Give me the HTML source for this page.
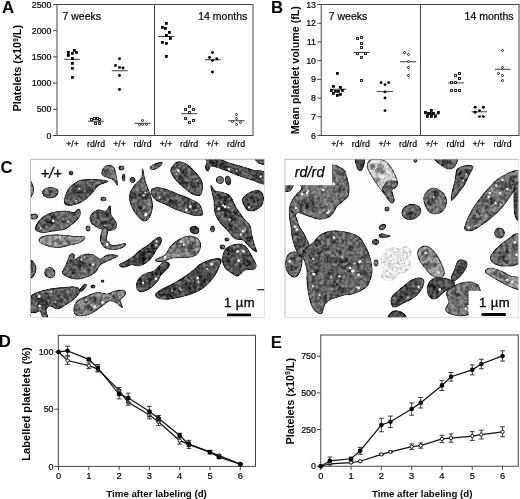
<!DOCTYPE html>
<html lang="en">
<head>
<meta charset="utf-8">
<title>Figure</title>
<style>
html,body{margin:0;padding:0;background:#fff;}
body{width:520px;height:499px;overflow:hidden;font-family:"Liberation Sans", sans-serif;}
svg{display:block;}
</style>
</head>
<body>
<svg width="520" height="499" viewBox="0 0 520 499" font-family='"Liberation Sans", sans-serif'>
<rect width="520" height="499" fill="#fff"/>
<rect x="57" y="4.5" width="196" height="131" fill="none" stroke="#444" stroke-width="1"/>
<line x1="154.5" y1="4.5" x2="154.5" y2="135.5" stroke="#444" stroke-width="1"/>
<line x1="53.1" y1="135.5" x2="57" y2="135.5" stroke="#444" stroke-width="1"/>
<text x="51.5" y="138.5" font-size="8.9" text-anchor="end" font-weight="normal" font-style="normal" fill="#000" stroke="#000" stroke-width="0.2">0</text>
<line x1="53.1" y1="109.3" x2="57" y2="109.3" stroke="#444" stroke-width="1"/>
<text x="51.5" y="112.3" font-size="8.9" text-anchor="end" font-weight="normal" font-style="normal" fill="#000" stroke="#000" stroke-width="0.2">500</text>
<line x1="53.1" y1="83.1" x2="57" y2="83.1" stroke="#444" stroke-width="1"/>
<text x="51.5" y="86.1" font-size="8.9" text-anchor="end" font-weight="normal" font-style="normal" fill="#000" stroke="#000" stroke-width="0.2">1000</text>
<line x1="53.1" y1="56.9" x2="57" y2="56.9" stroke="#444" stroke-width="1"/>
<text x="51.5" y="59.9" font-size="8.9" text-anchor="end" font-weight="normal" font-style="normal" fill="#000" stroke="#000" stroke-width="0.2">1500</text>
<line x1="53.1" y1="30.7" x2="57" y2="30.7" stroke="#444" stroke-width="1"/>
<text x="51.5" y="33.7" font-size="8.9" text-anchor="end" font-weight="normal" font-style="normal" fill="#000" stroke="#000" stroke-width="0.2">2000</text>
<line x1="53.1" y1="4.5" x2="57" y2="4.5" stroke="#444" stroke-width="1"/>
<text x="51.5" y="7.5" font-size="8.9" text-anchor="end" font-weight="normal" font-style="normal" fill="#000" stroke="#000" stroke-width="0.2">2500</text>
<text x="72.5" y="147.3" font-size="8.75" text-anchor="middle" font-weight="normal" font-style="normal" fill="#000" stroke="#000" stroke-width="0.2">+/+</text>
<text x="96" y="147.3" font-size="8.75" text-anchor="middle" font-weight="normal" font-style="normal" fill="#000" stroke="#000" stroke-width="0.2">rd/rd</text>
<text x="119.5" y="147.3" font-size="8.75" text-anchor="middle" font-weight="normal" font-style="normal" fill="#000" stroke="#000" stroke-width="0.2">+/+</text>
<text x="142.5" y="147.3" font-size="8.75" text-anchor="middle" font-weight="normal" font-style="normal" fill="#000" stroke="#000" stroke-width="0.2">rd/rd</text>
<text x="166" y="147.3" font-size="8.75" text-anchor="middle" font-weight="normal" font-style="normal" fill="#000" stroke="#000" stroke-width="0.2">+/+</text>
<text x="189" y="147.3" font-size="8.75" text-anchor="middle" font-weight="normal" font-style="normal" fill="#000" stroke="#000" stroke-width="0.2">rd/rd</text>
<text x="212.5" y="147.3" font-size="8.75" text-anchor="middle" font-weight="normal" font-style="normal" fill="#000" stroke="#000" stroke-width="0.2">+/+</text>
<text x="236" y="147.3" font-size="8.75" text-anchor="middle" font-weight="normal" font-style="normal" fill="#000" stroke="#000" stroke-width="0.2">rd/rd</text>
<text x="21.5" y="68.2" font-size="10.9" text-anchor="middle" font-weight="bold" font-style="normal" fill="#000" transform="rotate(-90 21.5 68.2)">Platelets (x10<tspan font-size="6.5" dy="-3.5">9</tspan><tspan dy="3.5">/L)</tspan></text>
<text x="62.5" y="20.2" font-size="10.5" text-anchor="start" font-weight="normal" font-style="normal" fill="#000" stroke="#000" stroke-width="0.2">7 weeks</text>
<text x="247.3" y="20.2" font-size="10.5" text-anchor="end" font-weight="normal" font-style="normal" fill="#000" stroke="#000" stroke-width="0.2">14 months</text>
<text x="2" y="13" font-size="16.8" text-anchor="start" font-weight="bold" font-style="normal" fill="#000">A</text>
<line x1="64.2" y1="59.4" x2="79.8" y2="59.4" stroke="#222" stroke-width="0.9"/>
<rect x="67" y="51" width="2.8" height="2.8" fill="#000"/>
<rect x="67" y="54" width="2.8" height="2.8" fill="#000"/>
<rect x="71" y="52" width="2.8" height="2.8" fill="#000"/>
<rect x="73" y="49" width="2.8" height="2.8" fill="#000"/>
<rect x="75" y="51" width="2.8" height="2.8" fill="#000"/>
<rect x="71" y="57" width="2.8" height="2.8" fill="#000"/>
<rect x="71" y="62" width="2.8" height="2.8" fill="#000"/>
<rect x="71" y="67" width="2.8" height="2.8" fill="#000"/>
<rect x="71" y="76" width="2.8" height="2.8" fill="#000"/>
<line x1="88" y1="121.25" x2="103.75" y2="121.25" stroke="#222" stroke-width="0.9"/>
<rect x="90.5" y="118.5" width="2" height="2" fill="#fff" stroke="#2a2a2a" stroke-width="1"/>
<rect x="93.5" y="117.5" width="2" height="2" fill="#fff" stroke="#2a2a2a" stroke-width="1"/>
<rect x="96.5" y="117.5" width="2" height="2" fill="#fff" stroke="#2a2a2a" stroke-width="1"/>
<rect x="98.5" y="118.5" width="2" height="2" fill="#fff" stroke="#2a2a2a" stroke-width="1"/>
<rect x="94.5" y="122.5" width="2" height="2" fill="#fff" stroke="#2a2a2a" stroke-width="1"/>
<rect x="98.5" y="122.5" width="2" height="2" fill="#fff" stroke="#2a2a2a" stroke-width="1"/>
<line x1="111.75" y1="70.75" x2="127.5" y2="70.75" stroke="#222" stroke-width="0.9"/>
<circle cx="119.5" cy="58.75" r="1.45" fill="#000"/>
<circle cx="115.5" cy="65.5" r="1.45" fill="#000"/>
<circle cx="119.5" cy="67.5" r="1.45" fill="#000"/>
<circle cx="123" cy="68" r="1.45" fill="#000"/>
<circle cx="119.5" cy="75.5" r="1.45" fill="#000"/>
<circle cx="119.5" cy="89.5" r="1.45" fill="#000"/>
<line x1="134.5" y1="123.3" x2="150.5" y2="123.3" stroke="#222" stroke-width="0.9"/>
<circle cx="142.5" cy="120.5" r="1.0" fill="#fff" stroke="#1a1a1a" stroke-width="1"/>
<circle cx="139.5" cy="124.5" r="1.0" fill="#fff" stroke="#1a1a1a" stroke-width="1"/>
<circle cx="142.5" cy="124.5" r="1.0" fill="#fff" stroke="#1a1a1a" stroke-width="1"/>
<circle cx="146.5" cy="124.5" r="1.0" fill="#fff" stroke="#1a1a1a" stroke-width="1"/>
<line x1="158.25" y1="36.5" x2="174.5" y2="36.5" stroke="#222" stroke-width="0.9"/>
<rect x="165" y="22" width="2.8" height="2.8" fill="#000"/>
<rect x="161" y="26" width="2.8" height="2.8" fill="#000"/>
<rect x="164" y="27" width="2.8" height="2.8" fill="#000"/>
<rect x="168" y="31" width="2.8" height="2.8" fill="#000"/>
<rect x="165" y="34" width="2.8" height="2.8" fill="#000"/>
<rect x="169" y="37" width="2.8" height="2.8" fill="#000"/>
<rect x="161" y="41" width="2.8" height="2.8" fill="#000"/>
<rect x="165" y="42" width="2.8" height="2.8" fill="#000"/>
<rect x="165" y="55" width="2.8" height="2.8" fill="#000"/>
<line x1="181" y1="113.7" x2="197.5" y2="113.7" stroke="#222" stroke-width="0.9"/>
<rect x="188.5" y="105.5" width="2" height="2" fill="#fff" stroke="#2a2a2a" stroke-width="1"/>
<rect x="184.5" y="108.5" width="2" height="2" fill="#fff" stroke="#2a2a2a" stroke-width="1"/>
<rect x="192.5" y="108.5" width="2" height="2" fill="#fff" stroke="#2a2a2a" stroke-width="1"/>
<rect x="188.5" y="111.5" width="2" height="2" fill="#fff" stroke="#2a2a2a" stroke-width="1"/>
<rect x="184.5" y="117.5" width="2" height="2" fill="#fff" stroke="#2a2a2a" stroke-width="1"/>
<rect x="192.5" y="119.5" width="2" height="2" fill="#fff" stroke="#2a2a2a" stroke-width="1"/>
<rect x="188.5" y="121.5" width="2" height="2" fill="#fff" stroke="#2a2a2a" stroke-width="1"/>
<line x1="205" y1="59.75" x2="220.75" y2="59.75" stroke="#222" stroke-width="0.9"/>
<circle cx="212.5" cy="52.5" r="1.45" fill="#000"/>
<circle cx="209.5" cy="57.5" r="1.45" fill="#000"/>
<circle cx="216.75" cy="58.75" r="1.45" fill="#000"/>
<circle cx="212.5" cy="60.5" r="1.45" fill="#000"/>
<circle cx="212.5" cy="72" r="1.45" fill="#000"/>
<line x1="228.25" y1="120.75" x2="244.5" y2="120.75" stroke="#222" stroke-width="0.9"/>
<circle cx="236.5" cy="114.5" r="1.0" fill="#fff" stroke="#1a1a1a" stroke-width="1"/>
<circle cx="236.5" cy="118.5" r="1.0" fill="#fff" stroke="#1a1a1a" stroke-width="1"/>
<circle cx="232.5" cy="121.5" r="1.0" fill="#fff" stroke="#1a1a1a" stroke-width="1"/>
<circle cx="240.5" cy="122.5" r="1.0" fill="#fff" stroke="#1a1a1a" stroke-width="1"/>
<circle cx="236.5" cy="124.5" r="1.0" fill="#fff" stroke="#1a1a1a" stroke-width="1"/>
<rect x="321.25" y="4.5" width="197.75" height="131" fill="none" stroke="#444" stroke-width="1"/>
<line x1="420.5" y1="4.5" x2="420.5" y2="135.5" stroke="#444" stroke-width="1"/>
<line x1="317.35" y1="135.5" x2="321.25" y2="135.5" stroke="#444" stroke-width="1"/>
<text x="316" y="138.5" font-size="8.9" text-anchor="end" font-weight="normal" font-style="normal" fill="#000" stroke="#000" stroke-width="0.2">6</text>
<line x1="317.35" y1="116.79" x2="321.25" y2="116.79" stroke="#444" stroke-width="1"/>
<text x="316" y="119.79" font-size="8.9" text-anchor="end" font-weight="normal" font-style="normal" fill="#000" stroke="#000" stroke-width="0.2">7</text>
<line x1="317.35" y1="98.07" x2="321.25" y2="98.07" stroke="#444" stroke-width="1"/>
<text x="316" y="101.07" font-size="8.9" text-anchor="end" font-weight="normal" font-style="normal" fill="#000" stroke="#000" stroke-width="0.2">8</text>
<line x1="317.35" y1="79.36" x2="321.25" y2="79.36" stroke="#444" stroke-width="1"/>
<text x="316" y="82.36" font-size="8.9" text-anchor="end" font-weight="normal" font-style="normal" fill="#000" stroke="#000" stroke-width="0.2">9</text>
<line x1="317.35" y1="60.64" x2="321.25" y2="60.64" stroke="#444" stroke-width="1"/>
<text x="316" y="63.64" font-size="8.9" text-anchor="end" font-weight="normal" font-style="normal" fill="#000" stroke="#000" stroke-width="0.2">10</text>
<line x1="317.35" y1="41.93" x2="321.25" y2="41.93" stroke="#444" stroke-width="1"/>
<text x="316" y="44.93" font-size="8.9" text-anchor="end" font-weight="normal" font-style="normal" fill="#000" stroke="#000" stroke-width="0.2">11</text>
<line x1="317.35" y1="23.22" x2="321.25" y2="23.22" stroke="#444" stroke-width="1"/>
<text x="316" y="26.22" font-size="8.9" text-anchor="end" font-weight="normal" font-style="normal" fill="#000" stroke="#000" stroke-width="0.2">12</text>
<line x1="317.35" y1="4.5" x2="321.25" y2="4.5" stroke="#444" stroke-width="1"/>
<text x="316" y="7.5" font-size="8.9" text-anchor="end" font-weight="normal" font-style="normal" fill="#000" stroke="#000" stroke-width="0.2">13</text>
<text x="337.5" y="147.3" font-size="8.75" text-anchor="middle" font-weight="normal" font-style="normal" fill="#000" stroke="#000" stroke-width="0.2">+/+</text>
<text x="360.75" y="147.3" font-size="8.75" text-anchor="middle" font-weight="normal" font-style="normal" fill="#000" stroke="#000" stroke-width="0.2">rd/rd</text>
<text x="384.8" y="147.3" font-size="8.75" text-anchor="middle" font-weight="normal" font-style="normal" fill="#000" stroke="#000" stroke-width="0.2">+/+</text>
<text x="408" y="147.3" font-size="8.75" text-anchor="middle" font-weight="normal" font-style="normal" fill="#000" stroke="#000" stroke-width="0.2">rd/rd</text>
<text x="431.8" y="147.3" font-size="8.75" text-anchor="middle" font-weight="normal" font-style="normal" fill="#000" stroke="#000" stroke-width="0.2">+/+</text>
<text x="455.5" y="147.3" font-size="8.75" text-anchor="middle" font-weight="normal" font-style="normal" fill="#000" stroke="#000" stroke-width="0.2">rd/rd</text>
<text x="478.8" y="147.3" font-size="8.75" text-anchor="middle" font-weight="normal" font-style="normal" fill="#000" stroke="#000" stroke-width="0.2">+/+</text>
<text x="502.5" y="147.3" font-size="8.75" text-anchor="middle" font-weight="normal" font-style="normal" fill="#000" stroke="#000" stroke-width="0.2">rd/rd</text>
<text x="299.2" y="70.2" font-size="10.7" text-anchor="middle" font-weight="bold" font-style="normal" fill="#000" transform="rotate(-90 299.2 70.2)">Mean platelet volume (fL)</text>
<text x="328.75" y="20.2" font-size="10.5" text-anchor="start" font-weight="normal" font-style="normal" fill="#000" stroke="#000" stroke-width="0.2">7 weeks</text>
<text x="513.6" y="20.2" font-size="10.5" text-anchor="end" font-weight="normal" font-style="normal" fill="#000" stroke="#000" stroke-width="0.2">14 months</text>
<text x="271.1" y="13" font-size="16.8" text-anchor="start" font-weight="bold" font-style="normal" fill="#000">B</text>
<line x1="330" y1="89.25" x2="346.25" y2="89.25" stroke="#222" stroke-width="0.9"/>
<rect x="336" y="72" width="2.8" height="2.8" fill="#000"/>
<rect x="332" y="85" width="2.8" height="2.8" fill="#000"/>
<rect x="339" y="86" width="2.8" height="2.8" fill="#000"/>
<rect x="330" y="89" width="2.8" height="2.8" fill="#000"/>
<rect x="334" y="90" width="2.8" height="2.8" fill="#000"/>
<rect x="337" y="90" width="2.8" height="2.8" fill="#000"/>
<rect x="341" y="89" width="2.8" height="2.8" fill="#000"/>
<rect x="332" y="92" width="2.8" height="2.8" fill="#000"/>
<rect x="336" y="94" width="2.8" height="2.8" fill="#000"/>
<rect x="339" y="93" width="2.8" height="2.8" fill="#000"/>
<line x1="353.75" y1="52.5" x2="369.5" y2="52.5" stroke="#222" stroke-width="0.9"/>
<rect x="356.5" y="37.5" width="2" height="2" fill="#fff" stroke="#2a2a2a" stroke-width="1"/>
<rect x="360.5" y="36.5" width="2" height="2" fill="#fff" stroke="#2a2a2a" stroke-width="1"/>
<rect x="360.5" y="42.5" width="2" height="2" fill="#fff" stroke="#2a2a2a" stroke-width="1"/>
<rect x="360.5" y="46.5" width="2" height="2" fill="#fff" stroke="#2a2a2a" stroke-width="1"/>
<rect x="356.5" y="52.5" width="2" height="2" fill="#fff" stroke="#2a2a2a" stroke-width="1"/>
<rect x="364.5" y="52.5" width="2" height="2" fill="#fff" stroke="#2a2a2a" stroke-width="1"/>
<rect x="360.5" y="56.5" width="2" height="2" fill="#fff" stroke="#2a2a2a" stroke-width="1"/>
<rect x="360.5" y="79.5" width="2" height="2" fill="#fff" stroke="#2a2a2a" stroke-width="1"/>
<line x1="376.8" y1="91.6" x2="393" y2="91.6" stroke="#222" stroke-width="0.9"/>
<circle cx="381.1" cy="82.6" r="1.45" fill="#000"/>
<circle cx="388.7" cy="82.6" r="1.45" fill="#000"/>
<circle cx="385" cy="84.6" r="1.45" fill="#000"/>
<circle cx="385" cy="91.9" r="1.45" fill="#000"/>
<circle cx="385" cy="97.9" r="1.45" fill="#000"/>
<circle cx="385" cy="110.6" r="1.45" fill="#000"/>
<line x1="400" y1="61.75" x2="416.25" y2="61.75" stroke="#222" stroke-width="0.9"/>
<circle cx="404.5" cy="52.5" r="1.0" fill="#fff" stroke="#1a1a1a" stroke-width="1"/>
<circle cx="408.5" cy="54.5" r="1.0" fill="#fff" stroke="#1a1a1a" stroke-width="1"/>
<circle cx="408.5" cy="61.5" r="1.0" fill="#fff" stroke="#1a1a1a" stroke-width="1"/>
<circle cx="408.5" cy="67.5" r="1.0" fill="#fff" stroke="#1a1a1a" stroke-width="1"/>
<circle cx="408.5" cy="75.5" r="1.0" fill="#fff" stroke="#1a1a1a" stroke-width="1"/>
<line x1="424.6" y1="114.1" x2="439.4" y2="114.1" stroke="#222" stroke-width="0.9"/>
<rect x="424" y="111" width="2.8" height="2.8" fill="#000"/>
<rect x="430" y="109" width="2.8" height="2.8" fill="#000"/>
<rect x="429" y="112" width="2.8" height="2.8" fill="#000"/>
<rect x="432" y="112" width="2.8" height="2.8" fill="#000"/>
<rect x="437" y="111" width="2.8" height="2.8" fill="#000"/>
<rect x="426" y="115" width="2.8" height="2.8" fill="#000"/>
<rect x="430" y="115" width="2.8" height="2.8" fill="#000"/>
<rect x="434" y="115" width="2.8" height="2.8" fill="#000"/>
<rect x="427" y="112" width="2.8" height="2.8" fill="#000"/>
<line x1="448.2" y1="82.9" x2="463.8" y2="82.9" stroke="#222" stroke-width="0.9"/>
<rect x="454.5" y="74.5" width="2" height="2" fill="#fff" stroke="#2a2a2a" stroke-width="1"/>
<rect x="458.5" y="72.5" width="2" height="2" fill="#fff" stroke="#2a2a2a" stroke-width="1"/>
<rect x="458.5" y="77.5" width="2" height="2" fill="#fff" stroke="#2a2a2a" stroke-width="1"/>
<rect x="450.5" y="81.5" width="2" height="2" fill="#fff" stroke="#2a2a2a" stroke-width="1"/>
<rect x="454.5" y="81.5" width="2" height="2" fill="#fff" stroke="#2a2a2a" stroke-width="1"/>
<rect x="450.5" y="89.5" width="2" height="2" fill="#fff" stroke="#2a2a2a" stroke-width="1"/>
<rect x="454.5" y="89.5" width="2" height="2" fill="#fff" stroke="#2a2a2a" stroke-width="1"/>
<rect x="458.5" y="89.5" width="2" height="2" fill="#fff" stroke="#2a2a2a" stroke-width="1"/>
<line x1="471.5" y1="111.8" x2="486.8" y2="111.8" stroke="#222" stroke-width="0.9"/>
<circle cx="475.2" cy="107.2" r="1.45" fill="#000"/>
<circle cx="483.4" cy="107.2" r="1.45" fill="#000"/>
<circle cx="475.2" cy="112.3" r="1.45" fill="#000"/>
<circle cx="479.5" cy="110.6" r="1.45" fill="#000"/>
<circle cx="479.5" cy="116.6" r="1.45" fill="#000"/>
<circle cx="483.4" cy="116.6" r="1.45" fill="#000"/>
<line x1="495" y1="69.25" x2="510.5" y2="69.25" stroke="#222" stroke-width="0.9"/>
<circle cx="502.5" cy="50.5" r="1.0" fill="#fff" stroke="#1a1a1a" stroke-width="1"/>
<circle cx="502.5" cy="67.5" r="1.0" fill="#fff" stroke="#1a1a1a" stroke-width="1"/>
<circle cx="498.5" cy="73.5" r="1.0" fill="#fff" stroke="#1a1a1a" stroke-width="1"/>
<circle cx="502.5" cy="75.5" r="1.0" fill="#fff" stroke="#1a1a1a" stroke-width="1"/>
<circle cx="502.5" cy="80.5" r="1.0" fill="#fff" stroke="#1a1a1a" stroke-width="1"/>
<defs>
<filter id="tex" x="0" y="0" width="100%" height="100%" color-interpolation-filters="sRGB">
<feTurbulence type="fractalNoise" baseFrequency="0.33" numOctaves="3" seed="4" result="n"/>
<feColorMatrix in="n" type="matrix" values="2.2 0 0 0 -0.6  2.2 0 0 0 -0.6  2.2 0 0 0 -0.6  0 0 0 0 1" result="g"/>
<feComposite in="SourceGraphic" in2="g" operator="arithmetic" k1="0" k2="1" k3="0.30" k4="-0.15" result="m"/>
<feComposite in="m" in2="SourceGraphic" operator="in"/>
</filter>
<clipPath id="cl"><rect x="30.5" y="159" width="234" height="158.5"/></clipPath>
<clipPath id="cr"><rect x="285" y="159" width="233.5" height="158.5"/></clipPath>
</defs>
<g clip-path="url(#cl)"><rect x="30" y="158" width="236" height="161" fill="#fdfdfd"/>
<g filter="url(#tex)">
<path d="M29.5 181C29.9 178.8 31.3 182.2 32 183.5C32.7 184.8 33.4 187.2 33.5 189C33.6 190.8 33.2 193.2 32.5 194.5C31.8 195.8 30 199.2 29.5 197C29 194.8 29.1 183.2 29.5 181Z" fill="#858585" stroke="#353535" stroke-width="1.2"/>
<path d="M42.5 193C42.3 191.7 43.6 189.9 45 189C46.4 188.1 49 187.4 51 187.5C53 187.6 55.9 188.4 57 189.5C58.1 190.6 58.2 192.7 57.5 194C56.8 195.3 54.9 197 53 197.5C51.1 198 47.8 197.8 46 197C44.2 196.2 42.7 194.3 42.5 193Z" fill="#6e6e6e" stroke="#2c2c2c" stroke-width="1.2"/>
<path d="M72.8 173C72.8 173.4 72.7 173.8 72.5 174.1C72.2 174.3 71.9 174.6 71.6 174.7C71.2 174.8 70.8 174.8 70.4 174.7C70.1 174.6 69.8 174.3 69.5 174.1C69.3 173.8 69.2 173.4 69.2 173C69.2 172.6 69.3 172.2 69.5 171.9C69.8 171.7 70.1 171.4 70.4 171.3C70.8 171.2 71.2 171.2 71.6 171.3C71.9 171.4 72.2 171.7 72.5 171.9C72.7 172.2 72.8 172.6 72.8 173Z" fill="#5a5a5a" stroke="#242424" stroke-width="1.2"/>
<path d="M64.5 200C64.7 197.9 65.8 194.4 67 192C68.2 189.6 69.8 187.4 72 185.5C74.2 183.6 76.6 181.5 80 180.5C83.4 179.5 87.9 179.4 92.5 179.5C97.1 179.6 106.6 180 107.5 181C108.4 182 100.6 183.5 98 185.5C95.4 187.5 94.5 190.4 92 193C89.5 195.6 86.2 199 83 201C79.8 203 75.8 204.4 73 205C70.2 205.6 67.4 205.3 66 204.5C64.6 203.7 64.3 202.1 64.5 200Z" fill="#626262" stroke="#272727" stroke-width="1.2"/>
<path d="M102.5 170C103.3 168.4 105.6 165.9 107.5 165.5C109.4 165.1 112.3 165.9 113.8 167.5C115.2 169.1 115.4 172.1 116 175C116.6 177.9 117.9 184.2 117.5 185C117.1 185.8 115.4 181.2 113.8 180C112.1 178.8 109.4 178.3 107.5 177.5C105.6 176.7 103.3 176.2 102.5 175C101.7 173.8 101.7 171.6 102.5 170Z" fill="#7f7f7f" stroke="#323232" stroke-width="1.2"/>
<path d="M124 168C124 168.4 123.8 168.9 123.5 169.2C123.2 169.5 122.7 169.8 122.3 169.9C121.8 170 121.2 170 120.7 169.9C120.3 169.8 119.8 169.5 119.5 169.2C119.2 168.9 119 168.4 119 168C119 167.6 119.2 167.1 119.5 166.8C119.8 166.5 120.3 166.2 120.7 166.1C121.2 166 121.8 166 122.3 166.1C122.7 166.2 123.2 166.5 123.5 166.8C123.8 167.1 124 167.6 124 168Z" fill="#676767" stroke="#292929" stroke-width="1.2"/>
<path d="M124.9 177.5C124.9 178.2 124.8 179 124.7 179.6C124.5 180.1 124.3 180.6 124.1 180.8C123.8 181 123.6 181 123.3 180.8C123.1 180.6 122.9 180.1 122.7 179.6C122.6 179 122.5 178.2 122.5 177.5C122.5 176.8 122.6 176 122.7 175.4C122.9 174.9 123.1 174.4 123.3 174.2C123.6 174 123.8 174 124.1 174.2C124.3 174.4 124.5 174.9 124.7 175.4C124.8 176 124.9 176.8 124.9 177.5Z" fill="#676767" stroke="#292929" stroke-width="1.2"/>
<path d="M135 180C135 180.5 134.8 181.1 134.5 181.5C134.2 181.9 133.7 182.2 133.3 182.4C132.8 182.5 132.2 182.5 131.7 182.4C131.3 182.2 130.8 181.9 130.5 181.5C130.2 181.1 130 180.5 130 180C130 179.5 130.2 178.9 130.5 178.5C130.8 178.1 131.3 177.8 131.7 177.6C132.2 177.5 132.8 177.5 133.3 177.6C133.7 177.8 134.2 178.1 134.5 178.5C134.8 178.9 135 179.5 135 180Z" fill="#616161" stroke="#262626" stroke-width="1.2"/>
<path d="M142.5 169C142.1 169.3 142.9 175.2 141.5 178C140.1 180.8 136 183 134 186C132 189 129.8 192.5 129.5 196C129.2 199.5 130.6 203.7 132 207C133.4 210.3 136 213.7 138 216C140 218.3 142.1 220.8 144 221C145.9 221.2 148.1 219.5 149.5 217C150.9 214.5 152.4 209.8 152.5 206C152.6 202.2 151.1 197.7 150 194C148.9 190.3 147 187 146 184C145 181 144.6 178.5 144 176C143.4 173.5 142.9 168.7 142.5 169Z" fill="#6d6d6d" stroke="#2b2b2b" stroke-width="1.2"/>
<path d="M36 226C37.1 223.9 39.8 219.8 42.5 217.5C45.2 215.2 48.8 213.6 52.5 212.5C56.2 211.4 61.4 211 65 211C68.6 211 71.7 212.8 74 212.5C76.3 212.2 78 208.6 79 209C80 209.4 80.8 212.8 80 215C79.2 217.2 76.5 220.2 74 222.5C71.5 224.8 68.6 227.6 65 229C61.4 230.4 56.2 230.4 52.5 231C48.8 231.6 45.2 232.7 42.5 232.5C39.8 232.3 37.1 231.1 36 230C34.9 228.9 34.9 228.1 36 226Z" fill="#6a6a6a" stroke="#2a2a2a" stroke-width="1.2"/>
<path d="M37.5 216.5C37.5 217 37.2 217.6 36.8 218C36.4 218.4 35.7 218.7 35.1 218.9C34.4 219 33.6 219 32.9 218.9C32.3 218.7 31.6 218.4 31.2 218C30.8 217.6 30.5 217 30.5 216.5C30.5 216 30.8 215.4 31.2 215C31.6 214.6 32.3 214.3 32.9 214.1C33.6 214 34.4 214 35.1 214.1C35.7 214.3 36.4 214.6 36.8 215C37.2 215.4 37.5 216 37.5 216.5Z" fill="#747474" stroke="#2e2e2e" stroke-width="1.2"/>
<path d="M91 215C92.2 213.2 95 210.7 97.5 210C100 209.3 103.9 211.7 106 211C108.1 210.3 109.2 205.3 110 206C110.8 206.7 110 212.2 111 215C112 217.8 115.3 220.2 116 222.5C116.7 224.8 116.8 227.8 115 229C113.2 230.2 108.3 230.5 105 230C101.7 229.5 97.4 227.5 95 226C92.6 224.5 91.2 222.8 90.5 221C89.8 219.2 89.8 216.8 91 215Z" fill="#5f5f5f" stroke="#262626" stroke-width="1.2"/>
<path d="M103 229C104.2 227.2 107.4 227.2 108 229C108.6 230.8 105.7 237.2 106.5 240C107.3 242.8 109.9 244.9 113 245.5C116.1 246.1 123.4 243.2 125 243.5C126.6 243.8 124.3 246.5 122.5 247.5C120.7 248.5 116.9 249.5 114 249.5C111.1 249.5 107.2 249.1 105 247.5C102.8 245.9 100.8 243.1 100.5 240C100.2 236.9 101.8 230.8 103 229Z" fill="#7f7f7f" stroke="#323232" stroke-width="1.2"/>
<path d="M90 228.5C90 229 89.8 229.6 89.6 230C89.4 230.4 89 230.7 88.6 230.9C88.2 231 87.8 231 87.4 230.9C87 230.7 86.6 230.4 86.4 230C86.2 229.6 86 229 86 228.5C86 228 86.2 227.4 86.4 227C86.6 226.6 87 226.3 87.4 226.1C87.8 226 88.2 226 88.6 226.1C89 226.3 89.4 226.6 89.6 227C89.8 227.4 90 228 90 228.5Z" fill="#616161" stroke="#262626" stroke-width="1.2"/>
<path d="M106 199C106 199.4 105.8 199.8 105.5 200.1C105.2 200.3 104.7 200.6 104.3 200.7C103.8 200.8 103.2 200.8 102.7 200.7C102.3 200.6 101.8 200.3 101.5 200.1C101.2 199.8 101 199.4 101 199C101 198.6 101.2 198.2 101.5 197.9C101.8 197.7 102.3 197.4 102.7 197.3C103.2 197.2 103.8 197.2 104.3 197.3C104.7 197.4 105.2 197.7 105.5 197.9C105.8 198.2 106 198.6 106 199Z" fill="#616161" stroke="#262626" stroke-width="1.2"/>
<path d="M39 240C39 238.5 41.5 236.8 45 236C48.5 235.2 55 234.9 60 235C65 235.1 70.8 236.2 75 236.5C79.2 236.8 84.2 236 85 237C85.8 238 82.5 241.2 80 242.5C77.5 243.8 73.8 244.2 70 245C66.2 245.8 61.7 247.5 57.5 247.5C53.3 247.5 48.1 246.2 45 245C41.9 243.8 39 241.5 39 240Z" fill="#989898" stroke="#3c3c3c" stroke-width="1.2"/>
<path d="M62.5 272.5C62.5 270.7 64.8 267.9 66 265C67.2 262.1 68.7 256.8 70 255C71.3 253.2 73.2 253.7 74 254.5C74.8 255.3 73.1 259.9 74.5 260C75.9 260.1 79.5 255.9 82.5 255C85.5 254.1 89.6 253.8 92.5 254.5C95.4 255.2 97.5 258.9 100 259C102.5 259.1 104.6 255.5 107.5 255C110.4 254.5 117.5 255 117.5 256C117.5 257 110.4 259.5 107.5 261C104.6 262.5 102.1 263.1 100 265C97.9 266.9 97.5 270.4 95 272.5C92.5 274.6 88.3 276.4 85 277.5C81.7 278.6 78.2 279.2 75 279C71.8 278.8 68.1 277.1 66 276C63.9 274.9 62.5 274.3 62.5 272.5Z" fill="#6d6d6d" stroke="#2b2b2b" stroke-width="1.2"/>
<path d="M30.5 261C31.1 258.7 33.1 261.7 34 263C34.9 264.3 36 267 36 269C36 271 34.9 273.7 34 275C33.1 276.3 31.1 279.3 30.5 277C29.9 274.7 29.9 263.3 30.5 261Z" fill="#5a5a5a" stroke="#242424" stroke-width="1.2"/>
<path d="M45.5 270C46.2 268.9 47.8 267.7 49 267.5C50.2 267.3 52 268 53 269C54 270 55.1 272.1 55 273.5C54.9 274.9 53.8 276.9 52.5 277.5C51.2 278.1 48.8 277.6 47.5 277C46.2 276.4 45.3 275.2 45 274C44.7 272.8 44.8 271.1 45.5 270Z" fill="#767676" stroke="#2f2f2f" stroke-width="1.2"/>
<path d="M120 264.5C120.8 263.7 122.9 263 125 261.7C127.1 260.4 130.1 258.8 132.7 256.9C135.3 255 137.8 252.1 140.4 250.2C143 248.3 145.8 247 148 245.4C150.2 243.8 152 241.9 153.8 240.6C155.6 239.2 157.5 237.6 158.7 237.3C159.9 237 160.9 237.7 161.2 238.7C161.5 239.7 161.3 241.8 160.6 243.5C159.8 245.2 158.1 247 156.7 249.2C155.2 251.4 153.7 254.6 151.9 256.9C150.2 259.1 148.4 261.2 146.2 262.7C144 264.1 140.9 265.3 138.5 265.6C136.1 265.9 133.9 264.4 131.7 264.6C129.4 264.8 126.9 266.6 125 266.9C123.1 267.2 121.3 266.9 120.5 266.5C119.7 266.1 119.2 265.3 120 264.5Z" fill="#505050" stroke="#202020" stroke-width="1.2"/>
<path d="M136.5 284.8C136.7 282.7 137.8 280 139.4 278.1C141 276.2 143.8 274.4 146.2 273.3C148.6 272.2 151.7 272.4 153.8 271.3C155.9 270.2 157.1 268 158.7 266.5C160.3 265 161.9 262.9 163.5 262.3C165.1 261.7 167.4 262 168.3 262.7C169.2 263.4 169.5 265.1 168.8 266.5C168.2 267.9 165.8 269.9 164.4 271.3C163 272.8 161.7 273.6 160.6 275.2C159.5 276.8 159.1 279.1 157.7 281C156.2 282.9 154.2 285 151.9 286.7C149.7 288.4 146.4 290.5 144.2 291.2C142 291.9 139.8 291.7 138.5 290.6C137.2 289.5 136.3 286.9 136.5 284.8Z" fill="#565656" stroke="#222222" stroke-width="1.2"/>
<path d="M30.5 297.5C31.7 294.4 34.2 293.9 37.5 292.5C40.8 291.1 45.4 289.8 50 289C54.6 288.2 60.8 287.8 65 287.5C69.2 287.2 72.5 286.4 75 287C77.5 287.6 80.2 289 80 291C79.8 293 76.5 296.7 74 299C71.5 301.3 67.8 303.3 65 305C62.2 306.7 60 308.8 57.5 309C55 309.2 51.9 305.8 50 306C48.1 306.2 46.4 308.2 46 310C45.6 311.8 48 315.8 47.5 317C47 318.2 44.2 318 43 317C41.8 316 41.3 311.8 40 311C38.7 310.2 36.6 312.5 35 312.5C33.4 312.5 31.2 313.5 30.5 311C29.8 308.5 29.3 300.6 30.5 297.5Z" fill="#5f5f5f" stroke="#262626" stroke-width="1.2"/>
<path d="M74 307.5C74.4 305.3 75.2 302.9 77.5 301C79.8 299.1 84.2 297.4 87.5 296C90.8 294.6 94.2 292.8 97.5 292.5C100.8 292.2 104.6 294.2 107.5 294C110.4 293.8 112.2 291.6 115 291C117.8 290.4 122.3 289.8 124 290.5C125.7 291.2 125.7 293.4 125 295C124.3 296.6 120.4 297.9 120 300C119.6 302.1 123.2 307.1 122.5 307.5C121.8 307.9 118.2 303.6 116 302.5C113.8 301.4 111.7 300.2 109 301C106.3 301.8 103.2 305.3 100 307.5C96.8 309.7 93.3 312.6 90 314C86.7 315.4 82.5 316 80 316C77.5 316 76 315.4 75 314C74 312.6 73.6 309.7 74 307.5Z" fill="#858585" stroke="#353535" stroke-width="1.2"/>
<path d="M84.5 284.5C85.6 283.8 86.9 284.4 86.5 285.5C86.1 286.6 83.1 290.2 82 291C80.9 291.8 79.6 291.1 80 290C80.4 288.9 83.4 285.2 84.5 284.5Z" fill="#676767" stroke="#292929" stroke-width="1.2"/>
<path d="M95 286.5C95 286.8 94.8 287.1 94.6 287.4C94.4 287.6 94 287.8 93.6 287.9C93.2 288 92.8 288 92.4 287.9C92 287.8 91.6 287.6 91.4 287.4C91.2 287.1 91 286.8 91 286.5C91 286.2 91.2 285.9 91.4 285.6C91.6 285.4 92 285.2 92.4 285.1C92.8 285 93.2 285 93.6 285.1C94 285.2 94.4 285.4 94.6 285.6C94.8 285.9 95 286.2 95 286.5Z" fill="#676767" stroke="#292929" stroke-width="1.2"/>
<path d="M103.8 281.2C103.8 281.4 103.7 281.6 103.6 281.8C103.4 281.9 103.1 282.1 102.9 282.2C102.7 282.2 102.3 282.2 102.1 282.2C101.9 282.1 101.6 281.9 101.4 281.8C101.3 281.6 101.2 281.4 101.2 281.2C101.2 281 101.3 280.8 101.4 280.6C101.6 280.5 101.9 280.3 102.1 280.2C102.3 280.2 102.7 280.2 102.9 280.2C103.1 280.3 103.4 280.5 103.6 280.6C103.7 280.8 103.8 281 103.8 281.2Z" fill="#676767" stroke="#292929" stroke-width="1.2"/>
<path d="M171 169C171.9 167 175 162.8 177.5 162C180 161.2 183.2 162.5 186 164C188.8 165.5 191.5 168.3 194 171C196.5 173.7 199.6 177.2 201 180C202.4 182.8 202.7 185 202.5 187.5C202.3 190 201.7 193.9 200 195C198.3 196.1 195.2 195.2 192.5 194C189.8 192.8 186.8 189.8 184 187.5C181.2 185.2 178 182.2 176 180C174 177.8 172.8 175.8 172 174C171.2 172.2 170.1 171 171 169Z" fill="#5e5e5e" stroke="#252525" stroke-width="1.2"/>
<path d="M151 191C151.4 189.1 154.8 187.7 157.5 187.5C160.2 187.3 164.2 188.9 167.5 190C170.8 191.1 173.8 192.5 177.5 194C181.2 195.5 186.4 197.3 190 199C193.6 200.7 196.9 201.5 199 204C201.1 206.5 203 212.1 202.5 214C202 215.9 198.9 215.8 196 215.5C193.1 215.2 188.5 213.6 185 212.5C181.5 211.4 178.3 210.4 175 209C171.7 207.6 168.3 205.7 165 204C161.7 202.3 157.3 201.2 155 199C152.7 196.8 150.6 192.9 151 191Z" fill="#616161" stroke="#262626" stroke-width="1.2"/>
<path d="M206 158C207.5 157.3 212.4 157.2 216 158C219.6 158.8 223.5 161.2 227.5 162.5C231.5 163.8 235.8 164.8 240 166C244.2 167.2 248.3 168.9 252.5 170C256.7 171.1 262.9 170.2 265 172.5C267.1 174.8 267.1 182.8 265 184C262.9 185.2 256.7 181.3 252.5 180C248.3 178.7 244.2 177.5 240 176C235.8 174.5 231.2 172.4 227.5 171C223.8 169.6 220.2 168.3 217.5 167.5C214.8 166.7 212.6 165.4 211 166C209.4 166.6 208.9 170.8 208 171C207.1 171.2 205.7 169 205.5 167.5C205.3 166 206.9 163.6 207 162C207.1 160.4 204.5 158.7 206 158Z" fill="#565656" stroke="#222222" stroke-width="1.2"/>
<path d="M223.5 180C223.5 180.7 223.2 181.5 222.8 182.1C222.4 182.6 221.7 183.1 221.1 183.3C220.4 183.5 219.6 183.5 218.9 183.3C218.3 183.1 217.6 182.6 217.2 182.1C216.8 181.5 216.5 180.7 216.5 180C216.5 179.3 216.8 178.5 217.2 177.9C217.6 177.4 218.3 176.9 218.9 176.7C219.6 176.5 220.4 176.5 221.1 176.7C221.7 176.9 222.4 177.4 222.8 177.9C223.2 178.5 223.5 179.3 223.5 180Z" fill="#797979" stroke="#303030" stroke-width="1.2"/>
<path d="M230.4 179.9C230.6 180.7 230.7 181.8 230.6 182.5C230.5 183.3 230.2 184.1 229.9 184.4C229.5 184.8 228.9 185 228.4 184.8C227.8 184.7 227.2 184.2 226.7 183.6C226.3 183 225.8 182 225.6 181.1C225.4 180.3 225.3 179.2 225.4 178.5C225.5 177.7 225.8 176.9 226.1 176.6C226.5 176.2 227.1 176 227.6 176.2C228.2 176.3 228.8 176.8 229.3 177.4C229.7 178 230.2 179 230.4 179.9Z" fill="#616161" stroke="#262626" stroke-width="1.2"/>
<path d="M211 185.5C211.5 185.3 213.1 189.8 215 191C216.9 192.2 220 191.7 222.5 192.5C225 193.3 227.8 193.5 230 196C232.2 198.5 233.7 203.7 236 207.5C238.3 211.3 241.7 215.9 244 219C246.3 222.1 248.8 223.5 250 226C251.2 228.5 250.8 231 251.5 234C252.2 237 253.2 241 254 244C254.8 247 257.3 251.7 256.5 252C255.7 252.3 251.2 248 249 246C246.8 244 245.3 241.2 243 240C240.7 238.8 237.6 240.2 235 238.5C232.4 236.8 230 232.7 227.5 230C225 227.3 222.1 225.4 220 222.5C217.9 219.6 216 216.2 215 212.5C214 208.8 214.5 203.4 214 200C213.5 196.6 212.5 194.4 212 192C211.5 189.6 210.5 185.7 211 185.5Z" fill="#5f5f5f" stroke="#262626" stroke-width="1.2"/>
<path d="M242.5 200C242.6 197.4 245.2 195.6 247.5 194C249.8 192.4 253.6 190.7 256 190.5C258.4 190.3 260.8 191.4 262 193C263.2 194.6 263.5 197.8 263.3 200C263.1 202.2 262.6 204.2 261 206C259.4 207.8 256.3 209.9 254 210.5C251.7 211.1 248.9 211.2 247 209.5C245.1 207.8 242.4 202.6 242.5 200Z" fill="#505050" stroke="#202020" stroke-width="1.2"/>
<path d="M198.7 231.5C198.5 232.2 197.9 232.8 197.2 233.2C196.5 233.5 195.5 233.7 194.7 233.6C193.8 233.5 192.8 233.1 192.1 232.7C191.3 232.2 190.7 231.4 190.4 230.7C190.1 230 190 229.1 190.3 228.5C190.5 227.8 191.1 227.2 191.8 226.8C192.5 226.5 193.5 226.3 194.3 226.4C195.2 226.5 196.2 226.9 196.9 227.3C197.7 227.8 198.3 228.6 198.6 229.3C198.9 230 199 230.9 198.7 231.5Z" fill="#404040" stroke="#191919" stroke-width="1.2"/>
<path d="M214.5 229C214.5 229.5 214.3 230.2 214.1 230.6C213.9 231.1 213.5 231.5 213.1 231.7C212.7 231.8 212.3 231.8 211.9 231.7C211.5 231.5 211.1 231.1 210.9 230.6C210.7 230.2 210.5 229.5 210.5 229C210.5 228.5 210.7 227.8 210.9 227.4C211.1 226.9 211.5 226.5 211.9 226.3C212.3 226.2 212.7 226.2 213.1 226.3C213.5 226.5 213.9 226.9 214.1 227.4C214.3 227.8 214.5 228.5 214.5 229Z" fill="#676767" stroke="#292929" stroke-width="1.2"/>
<path d="M150 168C150.2 167.1 153 164.9 155 164C157 163.1 161.2 162.2 162 162.5C162.8 162.8 161.3 164.8 160 166C158.7 167.2 155.7 169.2 154 169.5C152.3 169.8 149.8 168.9 150 168Z" fill="#676767" stroke="#292929" stroke-width="1.2"/>
<path d="M255 158C256 157.2 263.3 157 265 158C266.7 159 266 163.2 265 164C264 164.8 260.7 164 259 163C257.3 162 254 158.8 255 158Z" fill="#5a5a5a" stroke="#242424" stroke-width="1.2"/>
<path d="M156 259.5C157.2 258.4 162.5 257.2 165 255C167.5 252.8 168.5 248.7 171 246C173.5 243.3 176.8 240.7 180 239C183.2 237.3 186.8 235.8 190 236C193.2 236.2 197.3 237.8 199 240C200.7 242.2 200.8 246.3 200 249C199.2 251.7 196.9 254.6 194 256C191.1 257.4 186.1 257.2 182.5 257.5C178.9 257.8 175.6 257.4 172.5 258C169.4 258.6 166.5 260.4 164 261C161.5 261.6 158.8 261.8 157.5 261.5C156.2 261.2 154.8 260.6 156 259.5Z" fill="#888888" stroke="#363636" stroke-width="1.2"/>
<path d="M155.8 294.4C156.3 292.9 158.9 291.2 161.5 289.6C164.1 288 167.7 286.7 171.2 284.8C174.7 282.9 179.2 280.4 182.7 278.1C186.2 275.9 189.4 273.6 192.3 271.3C195.2 269.1 197.4 266.4 200 264.6C202.6 262.9 205.1 261.8 207.7 260.8C210.3 259.8 213.2 259 215.4 258.8C217.7 258.6 220.6 258.5 221.2 259.8C221.8 261.1 220.2 264.1 219.2 266.5C218.2 268.9 217 271.6 215.4 274.2C213.8 276.8 211.8 279.5 209.6 281.9C207.3 284.3 204.8 286.8 201.9 288.7C199 290.6 195.5 292.2 192.3 293.5C189.1 294.8 185.9 295.5 182.7 296.3C179.5 297.1 176 297.8 173.1 298.3C170.2 298.8 167.8 299.2 165.4 299.2C163 299.2 160.3 299.1 158.7 298.3C157.1 297.5 155.3 295.8 155.8 294.4Z" fill="#555555" stroke="#222222" stroke-width="1.2"/>
<path d="M222.5 259C222.7 255.9 223.9 251.4 226 249C228.1 246.6 231.8 245 235 244.5C238.2 244 242.3 244.2 245 246C247.7 247.8 249.2 251.8 251 255C252.8 258.2 255.5 262.7 256 265C256.5 267.3 255.8 268.2 254 269C252.2 269.8 247.8 268.8 245 270C242.2 271.2 239.8 275.6 237.5 276C235.2 276.4 233.1 273.9 231 272.5C228.9 271.1 226.4 269.8 225 267.5C223.6 265.2 222.3 262.1 222.5 259Z" fill="#555555" stroke="#222222" stroke-width="1.2"/>
<path d="M229 239.5C229 239.8 228.8 240.1 228.6 240.4C228.4 240.6 228 240.8 227.6 240.9C227.2 241 226.8 241 226.4 240.9C226 240.8 225.6 240.6 225.4 240.4C225.2 240.1 225 239.8 225 239.5C225 239.2 225.2 238.9 225.4 238.6C225.6 238.4 226 238.2 226.4 238.1C226.8 238 227.2 238 227.6 238.1C228 238.2 228.4 238.4 228.6 238.6C228.8 238.9 229 239.2 229 239.5Z" fill="#5a5a5a" stroke="#242424" stroke-width="1.2"/>
<path d="M225 247C225 247.4 224.8 247.9 224.5 248.2C224.2 248.5 223.7 248.8 223.3 248.9C222.8 249 222.2 249 221.7 248.9C221.3 248.8 220.8 248.5 220.5 248.2C220.2 247.9 220 247.4 220 247C220 246.6 220.2 246.1 220.5 245.8C220.8 245.5 221.3 245.2 221.7 245.1C222.2 245 222.8 245 223.3 245.1C223.7 245.2 224.2 245.5 224.5 245.8C224.8 246.1 225 246.6 225 247Z" fill="#5a5a5a" stroke="#242424" stroke-width="1.2"/>
<ellipse cx="50.5" cy="191.2" rx="2.1" ry="1.5" transform="rotate(9 50.5 191.2)" fill="#303030" opacity="0.6"/>
<ellipse cx="52" cy="193.3" rx="2.1" ry="1.6" transform="rotate(12 52 193.3)" fill="#464646" opacity="0.6"/>
<ellipse cx="80.5" cy="193.5" rx="2.1" ry="1.2" transform="rotate(52 80.5 193.5)" fill="#343434" opacity="0.6"/>
<ellipse cx="80" cy="185.8" rx="2.4" ry="2" transform="rotate(20 80 185.8)" fill="#363636" opacity="0.6"/>
<ellipse cx="71" cy="192" rx="2.1" ry="1.6" transform="rotate(142 71 192)" fill="#363636" opacity="0.6"/>
<ellipse cx="89.4" cy="191.1" rx="3.8" ry="3.4" transform="rotate(121 89.4 191.1)" fill="#383838" opacity="0.6"/>
<ellipse cx="77.8" cy="194.2" rx="3.5" ry="2.5" transform="rotate(98 77.8 194.2)" fill="#3d3d3d" opacity="0.6"/>
<ellipse cx="79.8" cy="195.1" rx="3.1" ry="1.9" transform="rotate(73 79.8 195.1)" fill="#2c2c2c" opacity="0.6"/>
<ellipse cx="75.1" cy="189.5" rx="3.9" ry="2.3" transform="rotate(114 75.1 189.5)" fill="#323232" opacity="0.6"/>
<ellipse cx="83" cy="193.5" rx="3.6" ry="3.2" transform="rotate(174 83 193.5)" fill="#3d3d3d" opacity="0.6"/>
<ellipse cx="74.5" cy="191.9" rx="3.3" ry="2.1" transform="rotate(1 74.5 191.9)" fill="#2c2c2c" opacity="0.6"/>
<ellipse cx="88.5" cy="189.7" rx="2.9" ry="2.1" transform="rotate(102 88.5 189.7)" fill="#2a2a2a" opacity="0.6"/>
<circle cx="79.4" cy="188.8" r="0.8" fill="#f6f6f6"/>
<circle cx="84.5" cy="191.8" r="0.8" fill="#f6f6f6"/>
<circle cx="75.9" cy="200.6" r="0.8" fill="#f6f6f6"/>
<ellipse cx="106.4" cy="172.7" rx="2.4" ry="1.9" transform="rotate(136 106.4 172.7)" fill="#454545" opacity="0.6"/>
<ellipse cx="106.1" cy="173.3" rx="3.8" ry="2.3" transform="rotate(126 106.1 173.3)" fill="#3f3f3f" opacity="0.6"/>
<ellipse cx="106.7" cy="170.6" rx="3.5" ry="3.1" transform="rotate(114 106.7 170.6)" fill="#4c4c4c" opacity="0.6"/>
<ellipse cx="137.3" cy="194.1" rx="4.2" ry="3.2" transform="rotate(0 137.3 194.1)" fill="#393939" opacity="0.6"/>
<ellipse cx="144.5" cy="210.6" rx="2.2" ry="1.7" transform="rotate(99 144.5 210.6)" fill="#414141" opacity="0.6"/>
<ellipse cx="146.8" cy="193.9" rx="2.4" ry="2" transform="rotate(85 146.8 193.9)" fill="#2f2f2f" opacity="0.6"/>
<ellipse cx="140.2" cy="207.7" rx="2.2" ry="1.3" transform="rotate(32 140.2 207.7)" fill="#2e2e2e" opacity="0.6"/>
<ellipse cx="143.1" cy="193.2" rx="3.4" ry="2.6" transform="rotate(152 143.1 193.2)" fill="#464646" opacity="0.6"/>
<ellipse cx="144.4" cy="196.4" rx="4.1" ry="2.8" transform="rotate(49 144.4 196.4)" fill="#424242" opacity="0.6"/>
<ellipse cx="140" cy="199.3" rx="4" ry="2.8" transform="rotate(128 140 199.3)" fill="#313131" opacity="0.6"/>
<ellipse cx="133" cy="195.5" rx="3.9" ry="3.2" transform="rotate(155 133 195.5)" fill="#2d2d2d" opacity="0.6"/>
<ellipse cx="140.4" cy="206.7" rx="3.2" ry="2.1" transform="rotate(132 140.4 206.7)" fill="#3b3b3b" opacity="0.6"/>
<ellipse cx="140.6" cy="209.4" rx="3.9" ry="2.2" transform="rotate(48 140.6 209.4)" fill="#343434" opacity="0.6"/>
<ellipse cx="147.3" cy="195.4" rx="3.2" ry="2.6" transform="rotate(16 147.3 195.4)" fill="#383838" opacity="0.6"/>
<circle cx="143.6" cy="195.3" r="1.1" fill="#f6f6f6"/>
<circle cx="145.4" cy="192.5" r="1.1" fill="#f6f6f6"/>
<circle cx="145.6" cy="214.6" r="1.5" fill="#f6f6f6"/>
<ellipse cx="47.4" cy="222.1" rx="4.1" ry="3.4" transform="rotate(35 47.4 222.1)" fill="#363636" opacity="0.6"/>
<ellipse cx="53.3" cy="216.4" rx="3.5" ry="2.4" transform="rotate(54 53.3 216.4)" fill="#3c3c3c" opacity="0.6"/>
<ellipse cx="42.8" cy="225.8" rx="3.5" ry="2.1" transform="rotate(35 42.8 225.8)" fill="#444444" opacity="0.6"/>
<ellipse cx="53.5" cy="220.5" rx="4.2" ry="3.5" transform="rotate(41 53.5 220.5)" fill="#3d3d3d" opacity="0.6"/>
<ellipse cx="54.5" cy="217.4" rx="2.2" ry="1.5" transform="rotate(86 54.5 217.4)" fill="#3a3a3a" opacity="0.6"/>
<ellipse cx="50.6" cy="223.7" rx="3.1" ry="1.8" transform="rotate(58 50.6 223.7)" fill="#444444" opacity="0.6"/>
<ellipse cx="72" cy="215.1" rx="2.3" ry="2" transform="rotate(146 72 215.1)" fill="#383838" opacity="0.6"/>
<ellipse cx="75.4" cy="215.3" rx="2" ry="1.2" transform="rotate(66 75.4 215.3)" fill="#2e2e2e" opacity="0.6"/>
<ellipse cx="50.9" cy="222" rx="4" ry="2.6" transform="rotate(33 50.9 222)" fill="#2d2d2d" opacity="0.6"/>
<ellipse cx="63.7" cy="221.5" rx="2.5" ry="1.7" transform="rotate(172 63.7 221.5)" fill="#303030" opacity="0.6"/>
<circle cx="68.3" cy="221.9" r="0.9" fill="#f6f6f6"/>
<circle cx="40.7" cy="228.2" r="1" fill="#f6f6f6"/>
<circle cx="53.3" cy="220.9" r="1.3" fill="#f6f6f6"/>
<ellipse cx="111.7" cy="223" rx="3.4" ry="2.4" transform="rotate(88 111.7 223)" fill="#3d3d3d" opacity="0.6"/>
<ellipse cx="107.5" cy="215.1" rx="3.1" ry="2.8" transform="rotate(153 107.5 215.1)" fill="#2d2d2d" opacity="0.6"/>
<ellipse cx="98" cy="217" rx="2.3" ry="1.7" transform="rotate(67 98 217)" fill="#2f2f2f" opacity="0.6"/>
<ellipse cx="105.5" cy="215.5" rx="2.7" ry="2" transform="rotate(21 105.5 215.5)" fill="#343434" opacity="0.6"/>
<ellipse cx="104" cy="224" rx="3.4" ry="2.8" transform="rotate(152 104 224)" fill="#303030" opacity="0.6"/>
<ellipse cx="106.5" cy="223.6" rx="3.8" ry="2.3" transform="rotate(134 106.5 223.6)" fill="#383838" opacity="0.6"/>
<circle cx="105" cy="225.5" r="0.7" fill="#f6f6f6"/>
<ellipse cx="103.8" cy="239.2" rx="2" ry="1.8" transform="rotate(77 103.8 239.2)" fill="#4d4d4d" opacity="0.6"/>
<ellipse cx="106.6" cy="243.9" rx="4" ry="2.2" transform="rotate(143 106.6 243.9)" fill="#4d4d4d" opacity="0.6"/>
<circle cx="107.1" cy="244.5" r="1.4" fill="#f6f6f6"/>
<ellipse cx="66.7" cy="239.4" rx="2.5" ry="2.2" transform="rotate(66 66.7 239.4)" fill="#616161" opacity="0.6"/>
<ellipse cx="48.5" cy="239.9" rx="2.1" ry="1.4" transform="rotate(111 48.5 239.9)" fill="#585858" opacity="0.6"/>
<ellipse cx="62" cy="242.9" rx="3" ry="1.8" transform="rotate(154 62 242.9)" fill="#595959" opacity="0.6"/>
<ellipse cx="68.5" cy="242.3" rx="2.5" ry="1.5" transform="rotate(31 68.5 242.3)" fill="#4f4f4f" opacity="0.6"/>
<ellipse cx="53.4" cy="242.9" rx="2.2" ry="1.5" transform="rotate(102 53.4 242.9)" fill="#585858" opacity="0.6"/>
<ellipse cx="58.5" cy="240.7" rx="3.4" ry="2.3" transform="rotate(172 58.5 240.7)" fill="#565656" opacity="0.6"/>
<circle cx="60" cy="237.6" r="1.1" fill="#f6f6f6"/>
<ellipse cx="82.8" cy="262.9" rx="3.6" ry="2.6" transform="rotate(175 82.8 262.9)" fill="#323232" opacity="0.6"/>
<ellipse cx="79.2" cy="264.3" rx="4.1" ry="3.6" transform="rotate(100 79.2 264.3)" fill="#393939" opacity="0.6"/>
<ellipse cx="73.1" cy="270.2" rx="3.6" ry="3" transform="rotate(37 73.1 270.2)" fill="#363636" opacity="0.6"/>
<ellipse cx="78.7" cy="267.9" rx="2.3" ry="1.9" transform="rotate(90 78.7 267.9)" fill="#414141" opacity="0.6"/>
<ellipse cx="75.2" cy="271.8" rx="3.5" ry="3.1" transform="rotate(173 75.2 271.8)" fill="#323232" opacity="0.6"/>
<ellipse cx="79.1" cy="266.2" rx="2.9" ry="2.3" transform="rotate(168 79.1 266.2)" fill="#444444" opacity="0.6"/>
<ellipse cx="70.9" cy="261.9" rx="2.8" ry="1.7" transform="rotate(144 70.9 261.9)" fill="#444444" opacity="0.6"/>
<ellipse cx="70.2" cy="266.6" rx="2.1" ry="1.5" transform="rotate(36 70.2 266.6)" fill="#3f3f3f" opacity="0.6"/>
<ellipse cx="71.3" cy="262.4" rx="3.5" ry="2.6" transform="rotate(75 71.3 262.4)" fill="#424242" opacity="0.6"/>
<ellipse cx="83.1" cy="264.8" rx="4.1" ry="2.4" transform="rotate(163 83.1 264.8)" fill="#363636" opacity="0.6"/>
<ellipse cx="74.2" cy="264.7" rx="2.3" ry="1.3" transform="rotate(168 74.2 264.7)" fill="#363636" opacity="0.6"/>
<ellipse cx="88.6" cy="267.4" rx="3.7" ry="2.3" transform="rotate(111 88.6 267.4)" fill="#363636" opacity="0.6"/>
<ellipse cx="78.4" cy="263.2" rx="3.1" ry="2.1" transform="rotate(69 78.4 263.2)" fill="#434343" opacity="0.6"/>
<circle cx="81.5" cy="259.5" r="1.1" fill="#f6f6f6"/>
<circle cx="93" cy="264.4" r="1.2" fill="#f6f6f6"/>
<circle cx="84.4" cy="257.2" r="0.7" fill="#f6f6f6"/>
<ellipse cx="143.3" cy="254.4" rx="4" ry="2.9" transform="rotate(133 143.3 254.4)" fill="#222222" opacity="0.6"/>
<ellipse cx="149.2" cy="250.9" rx="4.1" ry="2.6" transform="rotate(13 149.2 250.9)" fill="#2e2e2e" opacity="0.6"/>
<ellipse cx="152.9" cy="248.1" rx="3.4" ry="2.6" transform="rotate(106 152.9 248.1)" fill="#2a2a2a" opacity="0.6"/>
<ellipse cx="152.1" cy="250.7" rx="2.6" ry="2.1" transform="rotate(85 152.1 250.7)" fill="#262626" opacity="0.6"/>
<ellipse cx="153.3" cy="245.7" rx="2" ry="1.3" transform="rotate(108 153.3 245.7)" fill="#242424" opacity="0.6"/>
<ellipse cx="152.3" cy="245.8" rx="2.3" ry="2" transform="rotate(146 152.3 245.8)" fill="#242424" opacity="0.6"/>
<ellipse cx="142.6" cy="260.3" rx="3.1" ry="2.3" transform="rotate(138 142.6 260.3)" fill="#2b2b2b" opacity="0.6"/>
<ellipse cx="147.9" cy="251.1" rx="2.5" ry="1.6" transform="rotate(2 147.9 251.1)" fill="#303030" opacity="0.6"/>
<ellipse cx="143.3" cy="256.3" rx="4.1" ry="3.2" transform="rotate(100 143.3 256.3)" fill="#242424" opacity="0.6"/>
<ellipse cx="141.1" cy="259.2" rx="3.7" ry="2.6" transform="rotate(25 141.1 259.2)" fill="#242424" opacity="0.6"/>
<ellipse cx="144.4" cy="259.7" rx="2.2" ry="1.5" transform="rotate(65 144.4 259.7)" fill="#282828" opacity="0.6"/>
<ellipse cx="138.2" cy="261.2" rx="4" ry="3.5" transform="rotate(119 138.2 261.2)" fill="#2e2e2e" opacity="0.6"/>
<circle cx="156.6" cy="241.4" r="1.1" fill="#f6f6f6"/>
<circle cx="149.4" cy="253.7" r="0.8" fill="#f6f6f6"/>
<circle cx="155.9" cy="245.2" r="1" fill="#f6f6f6"/>
<ellipse cx="160" cy="270.8" rx="4.2" ry="2.3" transform="rotate(129 160 270.8)" fill="#2a2a2a" opacity="0.6"/>
<ellipse cx="142.3" cy="284.6" rx="3.6" ry="2.2" transform="rotate(20 142.3 284.6)" fill="#343434" opacity="0.6"/>
<ellipse cx="140.9" cy="281.7" rx="3.4" ry="2.1" transform="rotate(78 140.9 281.7)" fill="#282828" opacity="0.6"/>
<ellipse cx="149.7" cy="283.2" rx="2.1" ry="1.8" transform="rotate(85 149.7 283.2)" fill="#292929" opacity="0.6"/>
<ellipse cx="160.4" cy="269.9" rx="3.8" ry="3" transform="rotate(118 160.4 269.9)" fill="#2e2e2e" opacity="0.6"/>
<ellipse cx="152.4" cy="276.8" rx="2.6" ry="1.6" transform="rotate(103 152.4 276.8)" fill="#353535" opacity="0.6"/>
<ellipse cx="143.8" cy="281.6" rx="3" ry="2.1" transform="rotate(4 143.8 281.6)" fill="#363636" opacity="0.6"/>
<ellipse cx="156.9" cy="272.8" rx="3.2" ry="1.8" transform="rotate(110 156.9 272.8)" fill="#282828" opacity="0.6"/>
<ellipse cx="150.7" cy="277.1" rx="3.9" ry="3.4" transform="rotate(147 150.7 277.1)" fill="#292929" opacity="0.6"/>
<circle cx="156.2" cy="278.8" r="1.2" fill="#f6f6f6"/>
<circle cx="143" cy="282.8" r="1.1" fill="#f6f6f6"/>
<ellipse cx="57.6" cy="305.4" rx="3" ry="2" transform="rotate(62 57.6 305.4)" fill="#2f2f2f" opacity="0.6"/>
<ellipse cx="39.8" cy="303.4" rx="4.1" ry="2.8" transform="rotate(90 39.8 303.4)" fill="#2b2b2b" opacity="0.6"/>
<ellipse cx="46.6" cy="295.1" rx="3.9" ry="2.5" transform="rotate(14 46.6 295.1)" fill="#383838" opacity="0.6"/>
<ellipse cx="38.1" cy="297.1" rx="2.8" ry="2.2" transform="rotate(157 38.1 297.1)" fill="#353535" opacity="0.6"/>
<ellipse cx="43.8" cy="305.9" rx="3.4" ry="2.7" transform="rotate(105 43.8 305.9)" fill="#3a3a3a" opacity="0.6"/>
<ellipse cx="59.5" cy="301.9" rx="4.1" ry="3.1" transform="rotate(106 59.5 301.9)" fill="#3a3a3a" opacity="0.6"/>
<ellipse cx="44.3" cy="305.6" rx="2.2" ry="1.9" transform="rotate(177 44.3 305.6)" fill="#313131" opacity="0.6"/>
<ellipse cx="66.3" cy="295.8" rx="2.9" ry="2.1" transform="rotate(98 66.3 295.8)" fill="#363636" opacity="0.6"/>
<ellipse cx="45.4" cy="303.1" rx="3.8" ry="2.6" transform="rotate(96 45.4 303.1)" fill="#343434" opacity="0.6"/>
<ellipse cx="40.6" cy="299.8" rx="4" ry="2.2" transform="rotate(12 40.6 299.8)" fill="#2d2d2d" opacity="0.6"/>
<ellipse cx="57.1" cy="296.4" rx="3.4" ry="2.4" transform="rotate(132 57.1 296.4)" fill="#373737" opacity="0.6"/>
<ellipse cx="51.8" cy="300.9" rx="2.1" ry="1.6" transform="rotate(115 51.8 300.9)" fill="#3c3c3c" opacity="0.6"/>
<ellipse cx="35.4" cy="298.2" rx="2.9" ry="2.2" transform="rotate(146 35.4 298.2)" fill="#2b2b2b" opacity="0.6"/>
<ellipse cx="39.8" cy="299.6" rx="2.9" ry="2.4" transform="rotate(150 39.8 299.6)" fill="#2f2f2f" opacity="0.6"/>
<circle cx="39" cy="296.5" r="1.5" fill="#f6f6f6"/>
<circle cx="51.3" cy="291.7" r="0.9" fill="#f6f6f6"/>
<circle cx="55.8" cy="302.1" r="0.9" fill="#f6f6f6"/>
<circle cx="39.5" cy="305.9" r="1.2" fill="#f6f6f6"/>
<ellipse cx="89.6" cy="308.1" rx="2" ry="1.3" transform="rotate(25 89.6 308.1)" fill="#494949" opacity="0.6"/>
<ellipse cx="87.6" cy="307" rx="3.2" ry="2.8" transform="rotate(147 87.6 307)" fill="#3d3d3d" opacity="0.6"/>
<ellipse cx="100.4" cy="303.5" rx="2.1" ry="1.2" transform="rotate(133 100.4 303.5)" fill="#464646" opacity="0.6"/>
<ellipse cx="97.8" cy="301.5" rx="3.8" ry="2.9" transform="rotate(175 97.8 301.5)" fill="#4f4f4f" opacity="0.6"/>
<ellipse cx="90.5" cy="308.7" rx="2.8" ry="1.7" transform="rotate(68 90.5 308.7)" fill="#4b4b4b" opacity="0.6"/>
<ellipse cx="85.2" cy="300.6" rx="3.7" ry="2.1" transform="rotate(13 85.2 300.6)" fill="#4a4a4a" opacity="0.6"/>
<ellipse cx="115.6" cy="298.2" rx="3.3" ry="2.9" transform="rotate(126 115.6 298.2)" fill="#555555" opacity="0.6"/>
<ellipse cx="77.4" cy="307.8" rx="3.5" ry="2.6" transform="rotate(105 77.4 307.8)" fill="#414141" opacity="0.6"/>
<ellipse cx="114.4" cy="296.7" rx="2.4" ry="1.6" transform="rotate(47 114.4 296.7)" fill="#383838" opacity="0.6"/>
<ellipse cx="92.5" cy="299" rx="3.9" ry="2.6" transform="rotate(166 92.5 299)" fill="#393939" opacity="0.6"/>
<ellipse cx="80.3" cy="311.6" rx="2.8" ry="1.8" transform="rotate(48 80.3 311.6)" fill="#464646" opacity="0.6"/>
<ellipse cx="91.6" cy="301.6" rx="2.6" ry="1.5" transform="rotate(39 91.6 301.6)" fill="#3f3f3f" opacity="0.6"/>
<circle cx="102.3" cy="302.4" r="1.3" fill="#f6f6f6"/>
<circle cx="86.2" cy="299.9" r="0.9" fill="#f6f6f6"/>
<circle cx="94.7" cy="306.5" r="1.2" fill="#f6f6f6"/>
<ellipse cx="180.4" cy="177.7" rx="2.4" ry="2.1" transform="rotate(172 180.4 177.7)" fill="#2a2a2a" opacity="0.6"/>
<ellipse cx="182.6" cy="170.1" rx="3.3" ry="2.1" transform="rotate(31 182.6 170.1)" fill="#363636" opacity="0.6"/>
<ellipse cx="194.2" cy="187.2" rx="2.1" ry="1.7" transform="rotate(37 194.2 187.2)" fill="#2e2e2e" opacity="0.6"/>
<ellipse cx="182.4" cy="178.5" rx="2.7" ry="1.5" transform="rotate(79 182.4 178.5)" fill="#292929" opacity="0.6"/>
<ellipse cx="183.6" cy="173.7" rx="3.9" ry="2.7" transform="rotate(160 183.6 173.7)" fill="#3a3a3a" opacity="0.6"/>
<ellipse cx="192.4" cy="183.9" rx="2.8" ry="1.9" transform="rotate(168 192.4 183.9)" fill="#363636" opacity="0.6"/>
<ellipse cx="183.7" cy="182.1" rx="2.9" ry="2.4" transform="rotate(39 183.7 182.1)" fill="#2f2f2f" opacity="0.6"/>
<ellipse cx="197.4" cy="180.8" rx="3.6" ry="2.3" transform="rotate(111 197.4 180.8)" fill="#353535" opacity="0.6"/>
<ellipse cx="184.9" cy="173.2" rx="3.1" ry="2.5" transform="rotate(160 184.9 173.2)" fill="#353535" opacity="0.6"/>
<ellipse cx="187" cy="184.3" rx="2.5" ry="1.9" transform="rotate(32 187 184.3)" fill="#323232" opacity="0.6"/>
<circle cx="197" cy="180.5" r="0.8" fill="#f6f6f6"/>
<circle cx="178.4" cy="170.6" r="1.5" fill="#f6f6f6"/>
<circle cx="176.3" cy="173.5" r="0.8" fill="#f6f6f6"/>
<ellipse cx="186.3" cy="201.1" rx="3.1" ry="2.4" transform="rotate(1 186.3 201.1)" fill="#343434" opacity="0.6"/>
<ellipse cx="169.1" cy="195.9" rx="3.9" ry="2.4" transform="rotate(144 169.1 195.9)" fill="#2e2e2e" opacity="0.6"/>
<ellipse cx="173.9" cy="203.4" rx="2.6" ry="2" transform="rotate(11 173.9 203.4)" fill="#282828" opacity="0.6"/>
<ellipse cx="193.8" cy="208.3" rx="2.7" ry="1.7" transform="rotate(91 193.8 208.3)" fill="#2f2f2f" opacity="0.6"/>
<ellipse cx="170" cy="202.9" rx="2.8" ry="2.4" transform="rotate(61 170 202.9)" fill="#2a2a2a" opacity="0.6"/>
<ellipse cx="162.1" cy="199.3" rx="3.6" ry="3.2" transform="rotate(154 162.1 199.3)" fill="#353535" opacity="0.6"/>
<ellipse cx="195" cy="209.5" rx="2.9" ry="1.9" transform="rotate(169 195 209.5)" fill="#292929" opacity="0.6"/>
<ellipse cx="185.8" cy="203.4" rx="3" ry="2.2" transform="rotate(132 185.8 203.4)" fill="#333333" opacity="0.6"/>
<ellipse cx="185.8" cy="204.6" rx="2.7" ry="2" transform="rotate(94 185.8 204.6)" fill="#333333" opacity="0.6"/>
<ellipse cx="172.4" cy="202.3" rx="3.2" ry="2.2" transform="rotate(29 172.4 202.3)" fill="#2d2d2d" opacity="0.6"/>
<ellipse cx="194.1" cy="205.7" rx="2.4" ry="1.9" transform="rotate(125 194.1 205.7)" fill="#2d2d2d" opacity="0.6"/>
<ellipse cx="174.6" cy="202.7" rx="3.5" ry="2.9" transform="rotate(150 174.6 202.7)" fill="#353535" opacity="0.6"/>
<ellipse cx="194.9" cy="206.5" rx="3.8" ry="2.2" transform="rotate(128 194.9 206.5)" fill="#353535" opacity="0.6"/>
<ellipse cx="187.8" cy="208.7" rx="2.3" ry="2" transform="rotate(131 187.8 208.7)" fill="#2b2b2b" opacity="0.6"/>
<circle cx="190.3" cy="206.6" r="1.4" fill="#f6f6f6"/>
<circle cx="186.5" cy="210.1" r="1.5" fill="#f6f6f6"/>
<circle cx="196" cy="209.9" r="0.7" fill="#f6f6f6"/>
<circle cx="159.7" cy="197.6" r="1.1" fill="#f6f6f6"/>
<ellipse cx="221.7" cy="165.1" rx="3.1" ry="2" transform="rotate(145 221.7 165.1)" fill="#2f2f2f" opacity="0.6"/>
<ellipse cx="258.1" cy="178.3" rx="3.1" ry="2.7" transform="rotate(60 258.1 178.3)" fill="#373737" opacity="0.6"/>
<ellipse cx="214.5" cy="163.3" rx="4" ry="3.1" transform="rotate(103 214.5 163.3)" fill="#2c2c2c" opacity="0.6"/>
<ellipse cx="223.4" cy="166" rx="3.6" ry="2.7" transform="rotate(87 223.4 166)" fill="#252525" opacity="0.6"/>
<ellipse cx="227" cy="166.9" rx="3.5" ry="3" transform="rotate(39 227 166.9)" fill="#313131" opacity="0.6"/>
<ellipse cx="214.4" cy="162.6" rx="3.6" ry="3.2" transform="rotate(41 214.4 162.6)" fill="#2e2e2e" opacity="0.6"/>
<ellipse cx="259.9" cy="175.5" rx="2.8" ry="1.7" transform="rotate(96 259.9 175.5)" fill="#2c2c2c" opacity="0.6"/>
<ellipse cx="220.5" cy="164.8" rx="3" ry="1.9" transform="rotate(52 220.5 164.8)" fill="#2a2a2a" opacity="0.6"/>
<ellipse cx="256.2" cy="177.1" rx="2.1" ry="1.7" transform="rotate(112 256.2 177.1)" fill="#272727" opacity="0.6"/>
<ellipse cx="211.3" cy="162.4" rx="3.5" ry="2" transform="rotate(86 211.3 162.4)" fill="#303030" opacity="0.6"/>
<ellipse cx="258.9" cy="174.5" rx="2.5" ry="1.8" transform="rotate(65 258.9 174.5)" fill="#313131" opacity="0.6"/>
<ellipse cx="254.6" cy="175.2" rx="2.2" ry="1.7" transform="rotate(8 254.6 175.2)" fill="#363636" opacity="0.6"/>
<ellipse cx="237" cy="171.6" rx="3.2" ry="2.6" transform="rotate(61 237 171.6)" fill="#313131" opacity="0.6"/>
<ellipse cx="256.4" cy="175" rx="4" ry="2.7" transform="rotate(92 256.4 175)" fill="#343434" opacity="0.6"/>
<ellipse cx="227.6" cy="166.8" rx="2.8" ry="1.6" transform="rotate(51 227.6 166.8)" fill="#242424" opacity="0.6"/>
<circle cx="236.7" cy="170.8" r="0.8" fill="#f6f6f6"/>
<circle cx="260.3" cy="176.7" r="1" fill="#f6f6f6"/>
<circle cx="228.9" cy="168.8" r="1.4" fill="#f6f6f6"/>
<circle cx="261.1" cy="176.2" r="1" fill="#f6f6f6"/>
<ellipse cx="226" cy="211.3" rx="3" ry="1.8" transform="rotate(19 226 211.3)" fill="#343434" opacity="0.6"/>
<ellipse cx="220.1" cy="207.8" rx="3.9" ry="2.9" transform="rotate(106 220.1 207.8)" fill="#3a3a3a" opacity="0.6"/>
<ellipse cx="225.6" cy="198.2" rx="4.2" ry="2.6" transform="rotate(137 225.6 198.2)" fill="#2d2d2d" opacity="0.6"/>
<ellipse cx="222.9" cy="206.3" rx="2.6" ry="2.2" transform="rotate(142 222.9 206.3)" fill="#303030" opacity="0.6"/>
<ellipse cx="225" cy="202" rx="2.8" ry="2" transform="rotate(138 225 202)" fill="#2d2d2d" opacity="0.6"/>
<ellipse cx="232.1" cy="218" rx="3.3" ry="2.2" transform="rotate(87 232.1 218)" fill="#2c2c2c" opacity="0.6"/>
<ellipse cx="235.3" cy="212.7" rx="3.2" ry="2.2" transform="rotate(70 235.3 212.7)" fill="#2c2c2c" opacity="0.6"/>
<ellipse cx="220.2" cy="197.5" rx="3.9" ry="2.3" transform="rotate(35 220.2 197.5)" fill="#3a3a3a" opacity="0.6"/>
<ellipse cx="233.7" cy="230.3" rx="3.5" ry="2.3" transform="rotate(54 233.7 230.3)" fill="#333333" opacity="0.6"/>
<ellipse cx="247.3" cy="232.5" rx="3.6" ry="2.4" transform="rotate(66 247.3 232.5)" fill="#2e2e2e" opacity="0.6"/>
<ellipse cx="224.2" cy="208.6" rx="3.7" ry="2.6" transform="rotate(23 224.2 208.6)" fill="#2c2c2c" opacity="0.6"/>
<ellipse cx="223.7" cy="205.6" rx="3.3" ry="2.7" transform="rotate(51 223.7 205.6)" fill="#2a2a2a" opacity="0.6"/>
<ellipse cx="226.2" cy="215.4" rx="2.5" ry="2.1" transform="rotate(45 226.2 215.4)" fill="#2a2a2a" opacity="0.6"/>
<ellipse cx="248.9" cy="239.3" rx="3.6" ry="2.5" transform="rotate(141 248.9 239.3)" fill="#2a2a2a" opacity="0.6"/>
<ellipse cx="218.3" cy="211.7" rx="2.1" ry="1.2" transform="rotate(148 218.3 211.7)" fill="#2a2a2a" opacity="0.6"/>
<ellipse cx="218.5" cy="196.8" rx="4.1" ry="2.7" transform="rotate(165 218.5 196.8)" fill="#3a3a3a" opacity="0.6"/>
<ellipse cx="235.4" cy="219.2" rx="2.8" ry="1.7" transform="rotate(103 235.4 219.2)" fill="#343434" opacity="0.6"/>
<ellipse cx="247" cy="232.1" rx="2.5" ry="2" transform="rotate(22 247 232.1)" fill="#383838" opacity="0.6"/>
<ellipse cx="218" cy="203.1" rx="2.1" ry="1.4" transform="rotate(132 218 203.1)" fill="#2a2a2a" opacity="0.6"/>
<ellipse cx="218.9" cy="205.7" rx="2.2" ry="1.8" transform="rotate(151 218.9 205.7)" fill="#3c3c3c" opacity="0.6"/>
<ellipse cx="229.7" cy="212.6" rx="2.2" ry="1.4" transform="rotate(130 229.7 212.6)" fill="#363636" opacity="0.6"/>
<ellipse cx="217.9" cy="208.4" rx="2.3" ry="1.4" transform="rotate(56 217.9 208.4)" fill="#363636" opacity="0.6"/>
<ellipse cx="227.6" cy="212.9" rx="3.4" ry="3.1" transform="rotate(149 227.6 212.9)" fill="#2b2b2b" opacity="0.6"/>
<ellipse cx="248.9" cy="238.8" rx="3.3" ry="2.3" transform="rotate(163 248.9 238.8)" fill="#393939" opacity="0.6"/>
<ellipse cx="221.6" cy="198.7" rx="3" ry="1.9" transform="rotate(126 221.6 198.7)" fill="#343434" opacity="0.6"/>
<ellipse cx="229" cy="227.2" rx="3.7" ry="2.5" transform="rotate(97 229 227.2)" fill="#303030" opacity="0.6"/>
<ellipse cx="230" cy="225.7" rx="3" ry="2" transform="rotate(54 230 225.7)" fill="#292929" opacity="0.6"/>
<ellipse cx="228.9" cy="216.5" rx="2.1" ry="1.4" transform="rotate(69 228.9 216.5)" fill="#2b2b2b" opacity="0.6"/>
<circle cx="228.7" cy="207.6" r="0.8" fill="#f6f6f6"/>
<circle cx="218.6" cy="208.9" r="1.4" fill="#f6f6f6"/>
<circle cx="225" cy="206.7" r="1.4" fill="#f6f6f6"/>
<circle cx="240.9" cy="234.5" r="1.2" fill="#f6f6f6"/>
<circle cx="245.3" cy="229.8" r="0.8" fill="#f6f6f6"/>
<circle cx="229.9" cy="219.7" r="1" fill="#f6f6f6"/>
<circle cx="223.1" cy="205.2" r="0.9" fill="#f6f6f6"/>
<circle cx="243.3" cy="231.1" r="1.5" fill="#f6f6f6"/>
<ellipse cx="256.1" cy="200.4" rx="3.5" ry="2" transform="rotate(174 256.1 200.4)" fill="#232323" opacity="0.6"/>
<ellipse cx="250.3" cy="196.7" rx="3.1" ry="1.9" transform="rotate(155 250.3 196.7)" fill="#2f2f2f" opacity="0.6"/>
<ellipse cx="254.7" cy="202" rx="2.1" ry="1.4" transform="rotate(150 254.7 202)" fill="#2d2d2d" opacity="0.6"/>
<ellipse cx="248.3" cy="205.7" rx="2.6" ry="2" transform="rotate(107 248.3 205.7)" fill="#2b2b2b" opacity="0.6"/>
<circle cx="249.2" cy="207.2" r="1.1" fill="#f6f6f6"/>
<ellipse cx="190.2" cy="245.2" rx="3.5" ry="2.3" transform="rotate(121 190.2 245.2)" fill="#3f3f3f" opacity="0.6"/>
<ellipse cx="189.3" cy="248" rx="3.2" ry="2.5" transform="rotate(19 189.3 248)" fill="#414141" opacity="0.6"/>
<ellipse cx="179.3" cy="243.4" rx="3.4" ry="2.2" transform="rotate(3 179.3 243.4)" fill="#3a3a3a" opacity="0.6"/>
<ellipse cx="192.4" cy="250.4" rx="2.8" ry="2.4" transform="rotate(67 192.4 250.4)" fill="#575757" opacity="0.6"/>
<ellipse cx="192.9" cy="246.2" rx="3.1" ry="2.1" transform="rotate(47 192.9 246.2)" fill="#4f4f4f" opacity="0.6"/>
<ellipse cx="181.2" cy="242" rx="3" ry="1.8" transform="rotate(70 181.2 242)" fill="#515151" opacity="0.6"/>
<ellipse cx="193.4" cy="242.1" rx="2.3" ry="1.5" transform="rotate(8 193.4 242.1)" fill="#505050" opacity="0.6"/>
<ellipse cx="192.1" cy="252.5" rx="3.9" ry="2.3" transform="rotate(180 192.1 252.5)" fill="#545454" opacity="0.6"/>
<ellipse cx="182.6" cy="249" rx="3.3" ry="2.9" transform="rotate(79 182.6 249)" fill="#3c3c3c" opacity="0.6"/>
<ellipse cx="191.3" cy="245.2" rx="3.5" ry="2" transform="rotate(83 191.3 245.2)" fill="#3f3f3f" opacity="0.6"/>
<ellipse cx="175.7" cy="248.8" rx="4.1" ry="3.1" transform="rotate(152 175.7 248.8)" fill="#525252" opacity="0.6"/>
<circle cx="183.7" cy="244.7" r="1" fill="#f6f6f6"/>
<circle cx="181" cy="241.6" r="1.3" fill="#f6f6f6"/>
<circle cx="165.2" cy="257.4" r="1.3" fill="#f6f6f6"/>
<ellipse cx="203.2" cy="282.4" rx="2.9" ry="2.1" transform="rotate(150 203.2 282.4)" fill="#2b2b2b" opacity="0.6"/>
<ellipse cx="190.6" cy="285.4" rx="2.6" ry="2" transform="rotate(147 190.6 285.4)" fill="#262626" opacity="0.6"/>
<ellipse cx="185.5" cy="286.4" rx="3.6" ry="2.5" transform="rotate(87 185.5 286.4)" fill="#2f2f2f" opacity="0.6"/>
<ellipse cx="169" cy="289.3" rx="3.8" ry="2.5" transform="rotate(5 169 289.3)" fill="#353535" opacity="0.6"/>
<ellipse cx="208.4" cy="277.2" rx="2.2" ry="1.3" transform="rotate(39 208.4 277.2)" fill="#2a2a2a" opacity="0.6"/>
<ellipse cx="166.3" cy="295" rx="3" ry="1.8" transform="rotate(28 166.3 295)" fill="#272727" opacity="0.6"/>
<ellipse cx="194.1" cy="274.1" rx="2" ry="1.7" transform="rotate(22 194.1 274.1)" fill="#2c2c2c" opacity="0.6"/>
<ellipse cx="171.7" cy="295.4" rx="2.8" ry="1.7" transform="rotate(151 171.7 295.4)" fill="#343434" opacity="0.6"/>
<ellipse cx="202.7" cy="277.8" rx="3.9" ry="3" transform="rotate(30 202.7 277.8)" fill="#353535" opacity="0.6"/>
<ellipse cx="168" cy="291.4" rx="2.4" ry="1.7" transform="rotate(27 168 291.4)" fill="#2d2d2d" opacity="0.6"/>
<ellipse cx="191" cy="287.3" rx="3.5" ry="2.6" transform="rotate(117 191 287.3)" fill="#2b2b2b" opacity="0.6"/>
<ellipse cx="208.9" cy="277.3" rx="2.3" ry="1.8" transform="rotate(53 208.9 277.3)" fill="#303030" opacity="0.6"/>
<ellipse cx="171.4" cy="294.4" rx="4.2" ry="2.4" transform="rotate(70 171.4 294.4)" fill="#292929" opacity="0.6"/>
<ellipse cx="201.1" cy="283" rx="3.1" ry="2.2" transform="rotate(104 201.1 283)" fill="#353535" opacity="0.6"/>
<ellipse cx="198.7" cy="277.9" rx="3.4" ry="2.7" transform="rotate(83 198.7 277.9)" fill="#292929" opacity="0.6"/>
<ellipse cx="177.3" cy="289.9" rx="3.7" ry="3.2" transform="rotate(20 177.3 289.9)" fill="#2e2e2e" opacity="0.6"/>
<ellipse cx="190.5" cy="285.1" rx="3.2" ry="2.8" transform="rotate(104 190.5 285.1)" fill="#353535" opacity="0.6"/>
<ellipse cx="189.7" cy="290.2" rx="3.4" ry="2.6" transform="rotate(55 189.7 290.2)" fill="#292929" opacity="0.6"/>
<ellipse cx="172.8" cy="287.7" rx="4.2" ry="2.6" transform="rotate(112 172.8 287.7)" fill="#2f2f2f" opacity="0.6"/>
<ellipse cx="161.8" cy="293.8" rx="3.4" ry="2.6" transform="rotate(167 161.8 293.8)" fill="#303030" opacity="0.6"/>
<ellipse cx="194.5" cy="285.3" rx="3.3" ry="2.6" transform="rotate(77 194.5 285.3)" fill="#252525" opacity="0.6"/>
<ellipse cx="203.5" cy="280.4" rx="2.2" ry="1.2" transform="rotate(142 203.5 280.4)" fill="#252525" opacity="0.6"/>
<ellipse cx="200.8" cy="269.8" rx="3.7" ry="2.3" transform="rotate(25 200.8 269.8)" fill="#282828" opacity="0.6"/>
<ellipse cx="181.6" cy="286.9" rx="2.4" ry="2.1" transform="rotate(24 181.6 286.9)" fill="#343434" opacity="0.6"/>
<ellipse cx="199.1" cy="271.4" rx="2.6" ry="1.5" transform="rotate(123 199.1 271.4)" fill="#252525" opacity="0.6"/>
<circle cx="198.5" cy="281.8" r="0.9" fill="#f6f6f6"/>
<circle cx="211.6" cy="264.1" r="1.5" fill="#f6f6f6"/>
<circle cx="179.6" cy="288" r="0.8" fill="#f6f6f6"/>
<circle cx="207.3" cy="269" r="1" fill="#f6f6f6"/>
<circle cx="172" cy="291" r="0.9" fill="#f6f6f6"/>
<circle cx="180.7" cy="289.7" r="0.9" fill="#f6f6f6"/>
<circle cx="197.7" cy="277.9" r="1.4" fill="#f6f6f6"/>
<ellipse cx="226.4" cy="259" rx="3.6" ry="2.1" transform="rotate(30 226.4 259)" fill="#2d2d2d" opacity="0.6"/>
<ellipse cx="228.9" cy="252.9" rx="3" ry="1.9" transform="rotate(86 228.9 252.9)" fill="#2e2e2e" opacity="0.6"/>
<ellipse cx="247.4" cy="262.2" rx="3.9" ry="3.5" transform="rotate(96 247.4 262.2)" fill="#252525" opacity="0.6"/>
<ellipse cx="230.5" cy="249.9" rx="3.9" ry="2.4" transform="rotate(21 230.5 249.9)" fill="#2d2d2d" opacity="0.6"/>
<ellipse cx="249.5" cy="264.4" rx="2.2" ry="1.4" transform="rotate(92 249.5 264.4)" fill="#252525" opacity="0.6"/>
<ellipse cx="246.1" cy="259.5" rx="2.6" ry="1.9" transform="rotate(160 246.1 259.5)" fill="#303030" opacity="0.6"/>
<ellipse cx="238.3" cy="267.8" rx="3.2" ry="2" transform="rotate(127 238.3 267.8)" fill="#303030" opacity="0.6"/>
<ellipse cx="227.2" cy="256" rx="2.9" ry="2.5" transform="rotate(82 227.2 256)" fill="#323232" opacity="0.6"/>
<ellipse cx="230.1" cy="263.3" rx="4" ry="2.3" transform="rotate(55 230.1 263.3)" fill="#343434" opacity="0.6"/>
<ellipse cx="233" cy="250.8" rx="2.1" ry="1.2" transform="rotate(42 233 250.8)" fill="#232323" opacity="0.6"/>
<circle cx="238.5" cy="260.6" r="1.5" fill="#f6f6f6"/>
<circle cx="243.3" cy="251.3" r="1.4" fill="#f6f6f6"/>
<circle cx="237.8" cy="251.6" r="1.5" fill="#f6f6f6"/>
</g>
<rect x="257.5" y="289" width="7" height="1.4" fill="#333"/>
</g>
<path d="M30.5 317.5V159.3H264.5" fill="none" stroke="#aaa" stroke-width="0.8"/>
<path d="M264.5 159.3V317.5H30.5" fill="none" stroke="#ccc" stroke-width="0.6"/>
<g clip-path="url(#cr)"><rect x="284" y="158" width="236" height="161" fill="#fdfdfd"/>
<g filter="url(#tex)">
<path d="M381 262C381 259.2 382.2 255.4 384 253C385.8 250.6 389.3 248.2 392 247.5C394.7 246.8 397.7 249.2 400 249C402.3 248.8 404.1 246 406 246.5C407.9 247 411 249.9 411.5 252C412 254.1 409.1 256.7 409 259C408.9 261.3 411.7 263.8 411 266C410.3 268.2 407.2 270.7 405 272C402.8 273.3 399.8 272.8 398 274C396.2 275.2 396 278.5 394 279.5C392 280.5 388.1 280.6 386 280C383.9 279.4 381.8 277.7 381.5 276C381.2 274.3 384.1 272.3 384 270C383.9 267.7 381 264.8 381 262Z" fill="#ececec" stroke="#d8d8d8" stroke-width="0.5"/>
<circle cx="390.3" cy="259.8" r="1.4" fill="#f8f8f8" stroke="#b4b4b4" stroke-width="0.4"/>
<circle cx="392" cy="251.5" r="2" fill="#f8f8f8" stroke="#b4b4b4" stroke-width="0.4"/>
<circle cx="388.3" cy="261.4" r="1.7" fill="#f8f8f8" stroke="#b4b4b4" stroke-width="0.4"/>
<circle cx="402.8" cy="250.7" r="1.3" fill="#f8f8f8" stroke="#b4b4b4" stroke-width="0.4"/>
<circle cx="396.7" cy="265.8" r="2.1" fill="#f8f8f8" stroke="#b4b4b4" stroke-width="0.4"/>
<circle cx="385.4" cy="265.9" r="1.5" fill="#f8f8f8" stroke="#b4b4b4" stroke-width="0.4"/>
<circle cx="393.1" cy="276.2" r="1.8" fill="#f8f8f8" stroke="#b4b4b4" stroke-width="0.4"/>
<circle cx="388.6" cy="278" r="1.5" fill="#f8f8f8" stroke="#b4b4b4" stroke-width="0.4"/>
<circle cx="389.3" cy="255.8" r="2.2" fill="#f8f8f8" stroke="#b4b4b4" stroke-width="0.4"/>
<circle cx="405.8" cy="268.2" r="1.6" fill="#f8f8f8" stroke="#b4b4b4" stroke-width="0.4"/>
<circle cx="401.1" cy="265.9" r="2" fill="#f8f8f8" stroke="#b4b4b4" stroke-width="0.4"/>
<circle cx="408.7" cy="265.4" r="1.2" fill="#f8f8f8" stroke="#b4b4b4" stroke-width="0.4"/>
<circle cx="402.1" cy="254.7" r="1.3" fill="#f8f8f8" stroke="#b4b4b4" stroke-width="0.4"/>
<circle cx="391.7" cy="263.8" r="1.8" fill="#f8f8f8" stroke="#b4b4b4" stroke-width="0.4"/>
<circle cx="400" cy="262" r="1.8" fill="#f8f8f8" stroke="#b4b4b4" stroke-width="0.4"/>
<circle cx="395.2" cy="269" r="1.9" fill="#f8f8f8" stroke="#b4b4b4" stroke-width="0.4"/>
<circle cx="400.7" cy="252.1" r="2.2" fill="#f8f8f8" stroke="#b4b4b4" stroke-width="0.4"/>
<circle cx="405.1" cy="253.9" r="1.5" fill="#f8f8f8" stroke="#b4b4b4" stroke-width="0.4"/>
<circle cx="408.8" cy="253.9" r="1.9" fill="#f8f8f8" stroke="#b4b4b4" stroke-width="0.4"/>
<circle cx="391.5" cy="268.6" r="1.9" fill="#f8f8f8" stroke="#b4b4b4" stroke-width="0.4"/>
<circle cx="386.9" cy="255" r="1" fill="#f8f8f8" stroke="#b4b4b4" stroke-width="0.4"/>
<circle cx="384.4" cy="259.8" r="1.5" fill="#f8f8f8" stroke="#b4b4b4" stroke-width="0.4"/>
<circle cx="391.4" cy="270" r="1.5" fill="#f8f8f8" stroke="#b4b4b4" stroke-width="0.4"/>
<circle cx="385.6" cy="262.4" r="1" fill="#f8f8f8" stroke="#b4b4b4" stroke-width="0.4"/>
<circle cx="401.6" cy="251.5" r="1.4" fill="#f8f8f8" stroke="#b4b4b4" stroke-width="0.4"/>
<circle cx="406.7" cy="267.8" r="1.8" fill="#f8f8f8" stroke="#b4b4b4" stroke-width="0.4"/>
<circle cx="386.3" cy="272.1" r="1.4" fill="#f8f8f8" stroke="#b4b4b4" stroke-width="0.4"/>
<circle cx="388.2" cy="273.9" r="1.7" fill="#f8f8f8" stroke="#b4b4b4" stroke-width="0.4"/>
<circle cx="398.8" cy="252.7" r="1" fill="#f8f8f8" stroke="#b4b4b4" stroke-width="0.4"/>
<circle cx="397.1" cy="270.7" r="1.3" fill="#f8f8f8" stroke="#b4b4b4" stroke-width="0.4"/>
<circle cx="385.5" cy="269.7" r="1" fill="#f8f8f8" stroke="#b4b4b4" stroke-width="0.4"/>
<circle cx="387.4" cy="255" r="1.9" fill="#f8f8f8" stroke="#b4b4b4" stroke-width="0.4"/>
<circle cx="390.7" cy="263.8" r="1.4" fill="#f8f8f8" stroke="#b4b4b4" stroke-width="0.4"/>
<circle cx="393.4" cy="262.3" r="1.3" fill="#f8f8f8" stroke="#b4b4b4" stroke-width="0.4"/>
<circle cx="400" cy="269.7" r="1.3" fill="#f8f8f8" stroke="#b4b4b4" stroke-width="0.4"/>
<circle cx="390.9" cy="262.7" r="1.2" fill="#f8f8f8" stroke="#b4b4b4" stroke-width="0.4"/>
<circle cx="402.2" cy="259.1" r="1.9" fill="#f8f8f8" stroke="#b4b4b4" stroke-width="0.4"/>
<circle cx="387.3" cy="273.1" r="2" fill="#f8f8f8" stroke="#b4b4b4" stroke-width="0.4"/>
<path d="M333 165C337.7 164.8 336.2 165.7 338 166.5C339.8 167.3 342.5 168.1 344 170C345.5 171.9 346.2 175 347 178C347.8 181 348.8 185 349 188C349.2 191 349 193.8 348 196C347 198.2 344.8 199.3 343 201C341.2 202.7 338.7 204 337 206C335.3 208 334.7 211 333 213C331.3 215 329.5 217 327 218C324.5 219 320.8 219.2 318 219C315.2 218.8 312.5 217.3 310 216.5C307.5 215.7 305 214.7 303 214C301 213.3 299.5 212.2 298 212.5C296.5 212.8 295.3 215.8 294 216C292.7 216.2 290.7 215.7 290 214C289.3 212.3 289.5 208.5 290 206C290.5 203.5 291.7 201.2 293 199C294.3 196.8 296.5 194.8 298 193C299.5 191.2 301.7 190 302 188C302.3 186 298.7 184.3 300 181C301.3 177.7 304.5 170.7 310 168C315.5 165.3 328.3 165.2 333 165Z" fill="#747474" stroke="#2e2e2e" stroke-width="1.2"/>
<path d="M284 184C285.5 183 291.9 183 293 184C294.1 185 291.5 188.8 290.5 190C289.5 191.2 288.1 191.5 287 191.5C285.9 191.5 284.5 191.2 284 190C283.5 188.8 282.5 185 284 184Z" fill="#585858" stroke="#232323" stroke-width="1.2"/>
<path d="M290 210C291 209.8 294 213.3 295.5 216C297 218.7 297.6 223 299 226C300.4 229 302.5 231.3 304 234C305.5 236.7 307 239.5 308 242C309 244.5 309.8 246.7 310 249C310.2 251.3 309.8 254.2 309 256C308.2 257.8 306.5 260 305 260C303.5 260 301.7 258.2 300 256C298.3 253.8 296.3 250.3 295 247C293.7 243.7 292.7 239.5 292 236C291.3 232.5 291.4 229.2 291 226C290.6 222.8 289.7 219.7 289.5 217C289.3 214.3 289 210.2 290 210Z" fill="#6b6b6b" stroke="#2a2a2a" stroke-width="1.2"/>
<path d="M356 158C357.2 156.5 362.8 156.7 364 158C365.2 159.3 364.1 163.9 363.5 166C362.9 168.1 361.6 170.3 360.5 170.5C359.4 170.7 357.8 169.1 357 167C356.2 164.9 354.8 159.5 356 158Z" fill="#4c4c4c" stroke="#1e1e1e" stroke-width="1.2"/>
<path d="M369 161C370.2 159.6 372.3 159 375 159C377.7 159 382.1 159.2 385 161C387.9 162.8 390.4 166.4 392.5 170C394.6 173.6 397.1 179.6 397.5 182.5C397.9 185.4 396.1 186.2 395 187.5C393.9 188.8 391.2 187.9 391 190C390.8 192.1 394 197.9 394 200C394 202.1 392.5 203.3 391 202.5C389.5 201.7 387.2 197.9 385 195C382.8 192.1 379.8 188.3 377.5 185C375.2 181.7 372.7 177.9 371 175C369.3 172.1 367.8 169.8 367.5 167.5C367.2 165.2 367.8 162.4 369 161Z" fill="#d0d0d0" stroke="#535353" stroke-width="1.2"/>
<path d="M388.8 181.5C391.2 180.4 396.4 181.5 397.5 182.5C398.6 183.5 396.5 186.2 395.5 187.5C394.5 188.8 392 187.9 391.8 190C391.5 192.1 394.1 197.9 394 200C393.9 202.1 392.5 203.3 391.2 202.5C390 201.7 387.7 197.2 386.2 195C384.8 192.8 382.1 191.2 382.5 189C382.9 186.8 386.2 182.6 388.8 181.5Z" fill="#767676" stroke="#2f2f2f" stroke-width="1.2"/>
<path d="M389 209C389 209.4 388.8 209.9 388.6 210.2C388.4 210.5 388 210.8 387.6 210.9C387.2 211 386.8 211 386.4 210.9C386 210.8 385.6 210.5 385.4 210.2C385.2 209.9 385 209.4 385 209C385 208.6 385.2 208.1 385.4 207.8C385.6 207.5 386 207.2 386.4 207.1C386.8 207 387.2 207 387.6 207.1C388 207.2 388.4 207.5 388.6 207.8C388.8 208.1 389 208.6 389 209Z" fill="#707070" stroke="#2c2c2c" stroke-width="1.2"/>
<path d="M385.5 225.2C385.7 225.6 385.8 226.2 385.6 226.7C385.4 227.2 385 227.8 384.5 228.3C384 228.7 383.2 229.1 382.6 229.4C382 229.6 381.2 229.6 380.7 229.5C380.2 229.4 379.7 229.1 379.5 228.8C379.3 228.4 379.2 227.8 379.4 227.3C379.6 226.8 380 226.2 380.5 225.7C381 225.3 381.8 224.9 382.4 224.6C383 224.4 383.8 224.4 384.3 224.5C384.8 224.6 385.3 224.9 385.5 225.2Z" fill="#666666" stroke="#282828" stroke-width="1.2"/>
<path d="M385 235C385 235.3 384.9 235.8 384.6 236.1C384.3 236.5 383.7 236.8 383.2 237C382.7 237.2 382 237.4 381.4 237.3C380.8 237.3 380.2 237.2 379.8 237C379.4 236.7 379.1 236.4 379 236C379 235.7 379.1 235.2 379.4 234.9C379.7 234.5 380.3 234.2 380.8 234C381.3 233.8 382 233.6 382.6 233.7C383.2 233.7 383.8 233.8 384.2 234C384.6 234.3 384.9 234.6 385 235Z" fill="#666666" stroke="#282828" stroke-width="1.2"/>
<path d="M416.9 160.8C416.9 161.1 416.8 161.4 416.6 161.7C416.4 161.9 416.1 162.1 415.9 162.2C415.6 162.3 415.2 162.3 414.9 162.2C414.7 162.1 414.4 161.9 414.2 161.7C414 161.4 413.9 161.1 413.9 160.8C413.9 160.5 414 160.2 414.2 159.9C414.4 159.7 414.7 159.5 414.9 159.4C415.2 159.3 415.6 159.3 415.9 159.4C416.1 159.5 416.4 159.7 416.6 159.9C416.8 160.2 416.9 160.5 416.9 160.8Z" fill="#707070" stroke="#2c2c2c" stroke-width="1.2"/>
<path d="M436 158C439.2 157.3 452.8 156.7 456 158C459.2 159.3 456.2 163.8 455 165.6C453.8 167.4 451.2 169 449 169C446.8 169 444 166.8 442 165.6C440 164.4 438 163.3 437 162C436 160.7 432.8 158.7 436 158Z" fill="#666666" stroke="#282828" stroke-width="1.2"/>
<path d="M457.5 169C459.2 167.6 463.4 166 466 165.6C468.6 165.2 472.4 165.4 473 166.8C473.6 168.2 471.1 170.8 469.5 174C467.9 177.2 465.8 182.4 463.5 186C461.2 189.6 458 193.3 456 195.7C454 198.1 452.2 200.9 451.5 200.5C450.8 200.1 451.4 196.2 452 193C452.6 189.8 454.3 184.2 455 181C455.7 177.8 455.6 176 456 174C456.4 172 455.8 170.4 457.5 169Z" fill="#646464" stroke="#282828" stroke-width="1.2"/>
<path d="M423.8 198C424.1 195.4 425.9 192.7 427.5 191C429.1 189.3 431.3 188 433.5 188C435.7 188 438.6 189.3 440.7 191C442.8 192.7 445.2 195.4 446 198C446.8 200.6 446.6 204 445.5 206.5C444.4 209 441.9 211.9 439.5 213C437.1 214.1 433.3 214.1 431 213C428.7 211.9 427 209 425.8 206.5C424.6 204 423.5 200.6 423.8 198Z" fill="#767676" stroke="#2f2f2f" stroke-width="1.2"/>
<path d="M420.5 209.3C420.8 210.7 420.6 212.6 419.8 214C419.1 215.4 417.5 216.9 415.9 217.7C414.3 218.6 412.1 219.2 410.3 219.3C408.4 219.3 406.3 218.8 405 217.9C403.6 217.1 402.5 215.6 402.1 214.3C401.8 212.9 402 211 402.8 209.6C403.5 208.2 405.1 206.7 406.7 205.9C408.3 205 410.5 204.4 412.3 204.3C414.2 204.3 416.3 204.8 417.6 205.7C419 206.5 420.1 208 420.5 209.3Z" fill="#686868" stroke="#292929" stroke-width="1.2"/>
<path d="M464.7 227.3C465.1 225.9 465.9 223.1 467 220.4C468.1 217.7 469.7 214.4 471.6 211.1C473.5 207.8 475.8 204.3 478.5 200.7C481.2 197 484.7 192.7 487.8 189.2C490.9 185.7 493.9 182.4 497 179.9C500.1 177.4 503.1 175.7 506.2 174.2C509.3 172.7 513.3 171.1 515.5 170.7C517.7 170.3 518.6 170.6 519.2 171.9C519.8 173.2 519.8 176.1 519.2 178.8C518.6 181.5 517.3 184.7 515.5 188C513.7 191.3 510.8 195.1 508.5 198.4C506.2 201.7 504.3 204.6 501.6 207.7C498.9 210.8 495.5 214.2 492.4 216.9C489.3 219.6 486.2 221.7 483.1 223.8C480 225.9 476.4 228.4 473.9 229.6C471.4 230.8 469.6 230.8 468.1 230.7C466.6 230.6 465.3 229.6 464.7 229C464.1 228.4 464.3 228.7 464.7 227.3Z" fill="#7c7c7c" stroke="#313131" stroke-width="1.2"/>
<path d="M514.7 186C515.5 183.3 518.3 178.7 519 184C519.7 189.3 519.7 212.8 519 218C518.3 223.2 515.8 218 515 215C514.2 212 514 204.8 514 200C514 195.2 513.9 188.7 514.7 186Z" fill="#505050" stroke="#202020" stroke-width="1.2"/>
<path d="M504.3 233C504.3 233.9 503.9 235.1 503.4 235.8C502.8 236.6 501.9 237.3 501 237.6C500.1 237.9 498.9 237.9 498 237.6C497.1 237.3 496.2 236.6 495.6 235.8C495.1 235.1 494.7 233.9 494.7 233C494.7 232.1 495.1 230.9 495.6 230.2C496.2 229.4 497.1 228.7 498 228.4C498.9 228.1 500.1 228.1 501 228.4C501.9 228.7 502.8 229.4 503.4 230.2C503.9 230.9 504.3 232.1 504.3 233Z" fill="#626262" stroke="#272727" stroke-width="1.2"/>
<path d="M314 242C315.7 240.3 316.8 237.7 319 236C321.2 234.3 323.8 232.8 327 232C330.2 231.2 334.2 230.8 338 231C341.8 231.2 346.5 232 350 233C353.5 234 356.7 235.2 359 237C361.3 238.8 362.5 241.5 364 244C365.5 246.5 366.8 249 368 252C369.2 255 370.3 258.7 371 262C371.7 265.3 372.2 269 372 272C371.8 275 370.8 277.7 370 280C369.2 282.3 368.7 284.2 367 286C365.3 287.8 362.5 289.7 360 291C357.5 292.3 354.7 293.3 352 294C349.3 294.7 346.3 294.5 344 295C341.7 295.5 340.2 296.3 338 297C335.8 297.7 333.2 297.8 331 299C328.8 300.2 326.5 301.7 325 304C323.5 306.3 323.2 311.5 322 313C320.8 314.5 319.5 313.8 318 313C316.5 312.2 314.3 310.2 313 308C311.7 305.8 310.8 303 310 300C309.2 297 308.5 293.3 308 290C307.5 286.7 307.2 283.3 307 280C306.8 276.7 307.3 273 307 270C306.7 267 305.7 264.3 305 262C304.3 259.7 303.2 258 303 256C302.8 254 303 251.7 304 250C305 248.3 307.3 247.3 309 246C310.7 244.7 312.3 243.7 314 242Z" fill="#686868" stroke="#292929" stroke-width="1.2"/>
<path d="M286 260C286.5 257.7 287.5 255.3 289 254C290.5 252.7 293.2 251.8 295 252C296.8 252.2 298.8 253.7 300 255C301.2 256.3 301.8 257.8 302 260C302.2 262.2 301.7 265.5 301 268C300.3 270.5 299.3 273.5 298 275C296.7 276.5 294.5 277.2 293 277C291.5 276.8 290.2 275.5 289 274C287.8 272.5 286.5 270.3 286 268C285.5 265.7 285.5 262.3 286 260Z" fill="#6b6b6b" stroke="#2a2a2a" stroke-width="1.2"/>
<path d="M378.5 242C378.5 242.5 378.3 243.1 377.9 243.5C377.6 243.9 377 244.2 376.4 244.4C375.9 244.5 375.1 244.5 374.6 244.4C374 244.2 373.4 243.9 373.1 243.5C372.7 243.1 372.5 242.5 372.5 242C372.5 241.5 372.7 240.9 373.1 240.5C373.4 240.1 374 239.8 374.6 239.6C375.1 239.5 375.9 239.5 376.4 239.6C377 239.8 377.6 240.1 377.9 240.5C378.3 240.9 378.5 241.5 378.5 242Z" fill="#5c5c5c" stroke="#242424" stroke-width="1.2"/>
<path d="M390 236C390 236.2 389.6 236.5 389 236.7C388.5 236.9 387.5 237.1 386.5 237.1C385.6 237.2 384.4 237.2 383.5 237.1C382.5 237.1 381.5 236.9 381 236.7C380.4 236.5 380 236.2 380 236C380 235.8 380.4 235.5 381 235.3C381.5 235.1 382.5 234.9 383.5 234.9C384.4 234.8 385.6 234.8 386.5 234.9C387.5 234.9 388.5 235.1 389 235.3C389.6 235.5 390 235.8 390 236Z" fill="#6c6c6c" stroke="#2b2b2b" stroke-width="1.2"/>
<path d="M378 263C378 263.6 377.8 264.3 377.6 264.8C377.4 265.2 377 265.7 376.6 265.9C376.2 266 375.8 266 375.4 265.9C375 265.7 374.6 265.2 374.4 264.8C374.2 264.3 374 263.6 374 263C374 262.4 374.2 261.7 374.4 261.2C374.6 260.8 375 260.3 375.4 260.1C375.8 260 376.2 260 376.6 260.1C377 260.3 377.4 260.8 377.6 261.2C377.8 261.7 378 262.4 378 263Z" fill="#808080" stroke="#333333" stroke-width="1.2"/>
<path d="M417.8 251.8C418.2 249.8 419.6 247.8 421.4 247C423.2 246.2 426.3 245.8 428.7 247C431.1 248.2 433.7 251.2 435.9 254.2C438.1 257.2 440.5 261.8 441.9 265C443.3 268.2 444.7 271.4 444.3 273.5C443.9 275.6 441.7 277.6 439.5 277.8C437.3 278 433.6 276.6 431 274.7C428.4 272.8 425.8 268.9 423.8 266.3C421.8 263.7 420 261.4 419 259C418 256.6 417.4 253.8 417.8 251.8Z" fill="#9c9c9c" stroke="#3e3e3e" stroke-width="1.2"/>
<path d="M459 260.2C460.6 259.6 464.4 260.2 465.7 261.2C467 262.2 467.2 264.1 466.7 266C466.2 267.9 464.3 270.6 462.9 272.6C461.5 274.7 459.7 276.9 458.1 278.3C456.5 279.7 454.4 281.4 453.3 281.2C452.2 281 451.2 279.1 451.4 277.4C451.6 275.6 453.5 272.8 454.3 270.7C455.1 268.6 455.4 266.8 456.2 265C457 263.2 457.4 260.8 459 260.2Z" fill="#595959" stroke="#232323" stroke-width="1.2"/>
<path d="M428.7 283C429.9 280.8 432.1 279.1 434.7 278.3C437.3 277.5 441.1 277.7 444.3 278.3C447.5 278.9 452.5 280.5 453.9 281.9C455.3 283.3 454.3 285.1 452.7 286.7C451.1 288.3 446.9 289.6 444.3 291.5C441.7 293.4 439.2 296.9 437 298C434.8 299.1 432.6 299.1 431 298C429.4 296.9 427.9 294 427.5 291.5C427.1 289 427.5 285.2 428.7 283Z" fill="#565656" stroke="#222222" stroke-width="1.2"/>
<path d="M446.7 292.7C447.7 289.9 451.6 287.3 455 285.5C458.4 283.7 463.4 282.2 467 282C470.6 281.8 474.5 282.9 476.7 284.3C478.9 285.7 479.6 287.7 480.3 290.3C481 292.9 481.9 296.7 481 300C480.1 303.3 477.7 307.4 475 310C472.3 312.6 468.6 314.8 464.7 315.5C460.8 316.2 454.7 315.3 451.5 314.3C448.3 313.3 445.9 311.5 445.5 309.5C445.1 307.5 448.8 305.1 449 302.3C449.2 299.5 445.7 295.5 446.7 292.7Z" fill="#767676" stroke="#2f2f2f" stroke-width="1.2"/>
<path d="M392 297C394.1 293.8 401.1 288.4 404.6 285.5C408.1 282.6 410.2 280.7 413 279.5C415.8 278.3 419.6 277.7 421.4 278.3C423.2 278.9 424.2 280.6 423.8 283C423.4 285.4 421 290.1 419 292.7C417 295.3 414.2 297.1 411.8 298.7C409.4 300.3 407.4 300.9 404.6 302.3C401.8 303.7 397.1 306.6 395 307C392.9 307.4 392.5 306.7 392 305C391.5 303.3 389.9 300.2 392 297Z" fill="#5f5f5f" stroke="#262626" stroke-width="1.2"/>
<path d="M389 318C386.8 317 390.5 313.2 392 312C393.5 310.8 396 310.7 398 311C400 311.3 402.8 312.8 404 314C405.2 315.2 407.5 317.3 405 318C402.5 318.7 391.2 319 389 318Z" fill="#484848" stroke="#1c1c1c" stroke-width="1.2"/>
<path d="M519 234.5C517 230.9 510.3 238 506.7 240.2C503.1 242.4 499.8 245 497.1 247.9C494.4 250.8 490.8 254.7 490.5 257.4C490.2 260.1 492.8 262.6 495.2 264C497.6 265.4 500.8 266.3 504.8 266C508.8 265.7 516.6 267.2 519 262C521.4 256.8 521 238.1 519 234.5Z" fill="#747474" stroke="#2e2e2e" stroke-width="1.2"/>
<path d="M485.9 270C486.7 269.2 488.5 267.8 491 268C493.5 268.2 497.6 269.7 500.8 271C504 272.3 507.4 274.8 510.4 276C513.4 277.2 517.6 276.1 519 278.3C520.4 280.5 520.4 287.6 519 289C517.6 290.4 513.4 287.9 510.4 286.7C507.4 285.5 504 283.8 500.8 282C497.6 280.2 493.4 277.5 491 276C488.6 274.5 487.2 274 486.3 273C485.4 272 485.1 270.8 485.9 270Z" fill="#9a9a9a" stroke="#3d3d3d" stroke-width="1.2"/>
<ellipse cx="301.3" cy="203.2" rx="3.8" ry="3.1" transform="rotate(59 301.3 203.2)" fill="#414141" opacity="0.6"/>
<ellipse cx="338.7" cy="190.5" rx="3" ry="1.6" transform="rotate(149 338.7 190.5)" fill="#363636" opacity="0.6"/>
<ellipse cx="339.6" cy="189.7" rx="3.7" ry="2.6" transform="rotate(133 339.6 189.7)" fill="#3e3e3e" opacity="0.6"/>
<ellipse cx="332.7" cy="176.9" rx="2.6" ry="2" transform="rotate(176 332.7 176.9)" fill="#3c3c3c" opacity="0.6"/>
<ellipse cx="310" cy="203" rx="3.5" ry="2.8" transform="rotate(79 310 203)" fill="#3b3b3b" opacity="0.6"/>
<ellipse cx="320.9" cy="181.5" rx="3.7" ry="2.4" transform="rotate(75 320.9 181.5)" fill="#323232" opacity="0.6"/>
<ellipse cx="320.3" cy="173.2" rx="4" ry="3.5" transform="rotate(118 320.3 173.2)" fill="#313131" opacity="0.6"/>
<ellipse cx="308.9" cy="207.4" rx="3.6" ry="3.1" transform="rotate(175 308.9 207.4)" fill="#434343" opacity="0.6"/>
<ellipse cx="321.2" cy="206.9" rx="2.2" ry="1.3" transform="rotate(99 321.2 206.9)" fill="#3c3c3c" opacity="0.6"/>
<ellipse cx="293.9" cy="208.4" rx="3.1" ry="2.2" transform="rotate(122 293.9 208.4)" fill="#494949" opacity="0.6"/>
<ellipse cx="314.7" cy="203.1" rx="3.2" ry="2.6" transform="rotate(80 314.7 203.1)" fill="#414141" opacity="0.6"/>
<ellipse cx="327.6" cy="180" rx="2.1" ry="1.9" transform="rotate(142 327.6 180)" fill="#343434" opacity="0.6"/>
<ellipse cx="317.5" cy="198.4" rx="2.7" ry="1.5" transform="rotate(169 317.5 198.4)" fill="#454545" opacity="0.6"/>
<ellipse cx="307" cy="206.5" rx="2.3" ry="1.3" transform="rotate(18 307 206.5)" fill="#393939" opacity="0.6"/>
<ellipse cx="338.3" cy="197.6" rx="2.9" ry="1.8" transform="rotate(99 338.3 197.6)" fill="#454545" opacity="0.6"/>
<ellipse cx="315.1" cy="183.3" rx="2.3" ry="1.4" transform="rotate(141 315.1 183.3)" fill="#333333" opacity="0.6"/>
<ellipse cx="305.3" cy="205" rx="4" ry="3.4" transform="rotate(121 305.3 205)" fill="#363636" opacity="0.6"/>
<ellipse cx="300.9" cy="208.8" rx="3.7" ry="2.5" transform="rotate(51 300.9 208.8)" fill="#444444" opacity="0.6"/>
<ellipse cx="338" cy="183.3" rx="2.5" ry="1.6" transform="rotate(120 338 183.3)" fill="#464646" opacity="0.6"/>
<ellipse cx="326.3" cy="181.9" rx="3.6" ry="3.1" transform="rotate(174 326.3 181.9)" fill="#353535" opacity="0.6"/>
<ellipse cx="314.7" cy="209.4" rx="3.9" ry="2.9" transform="rotate(2 314.7 209.4)" fill="#454545" opacity="0.6"/>
<ellipse cx="303.4" cy="182.2" rx="3.9" ry="3.5" transform="rotate(77 303.4 182.2)" fill="#3a3a3a" opacity="0.6"/>
<ellipse cx="310.8" cy="185.4" rx="2.2" ry="1.4" transform="rotate(173 310.8 185.4)" fill="#3b3b3b" opacity="0.6"/>
<ellipse cx="327.5" cy="212.9" rx="3.7" ry="2.3" transform="rotate(164 327.5 212.9)" fill="#464646" opacity="0.6"/>
<ellipse cx="304.9" cy="200.4" rx="2.8" ry="2.4" transform="rotate(34 304.9 200.4)" fill="#373737" opacity="0.6"/>
<ellipse cx="332.1" cy="201.2" rx="2.1" ry="1.8" transform="rotate(44 332.1 201.2)" fill="#474747" opacity="0.6"/>
<ellipse cx="341.9" cy="172.5" rx="4.1" ry="3.3" transform="rotate(173 341.9 172.5)" fill="#3f3f3f" opacity="0.6"/>
<ellipse cx="345.8" cy="190.4" rx="3" ry="2.4" transform="rotate(54 345.8 190.4)" fill="#444444" opacity="0.6"/>
<ellipse cx="311.8" cy="198.2" rx="3.1" ry="1.8" transform="rotate(118 311.8 198.2)" fill="#414141" opacity="0.6"/>
<circle cx="308.4" cy="190.7" r="1" fill="#f6f6f6"/>
<circle cx="327.7" cy="212.9" r="1.2" fill="#f6f6f6"/>
<circle cx="308.8" cy="183.6" r="1.4" fill="#f6f6f6"/>
<circle cx="333.6" cy="184" r="1.4" fill="#f6f6f6"/>
<circle cx="302.3" cy="194.3" r="1.4" fill="#f6f6f6"/>
<circle cx="328.9" cy="211.6" r="1.2" fill="#f6f6f6"/>
<circle cx="323.5" cy="189.9" r="1.2" fill="#f6f6f6"/>
<circle cx="307.2" cy="192.8" r="1.3" fill="#f6f6f6"/>
<circle cx="296" cy="207.9" r="1.2" fill="#f6f6f6"/>
<ellipse cx="299.6" cy="247.6" rx="2" ry="1.7" transform="rotate(154 299.6 247.6)" fill="#444444" opacity="0.6"/>
<ellipse cx="305.1" cy="253.4" rx="2.8" ry="2.4" transform="rotate(53 305.1 253.4)" fill="#393939" opacity="0.6"/>
<ellipse cx="304.1" cy="245.6" rx="2.5" ry="1.8" transform="rotate(39 304.1 245.6)" fill="#3a3a3a" opacity="0.6"/>
<ellipse cx="295.2" cy="231" rx="3.1" ry="2.2" transform="rotate(23 295.2 231)" fill="#3f3f3f" opacity="0.6"/>
<ellipse cx="300" cy="234.4" rx="2" ry="1.7" transform="rotate(17 300 234.4)" fill="#434343" opacity="0.6"/>
<ellipse cx="297.9" cy="246.1" rx="4.2" ry="2.6" transform="rotate(104 297.9 246.1)" fill="#353535" opacity="0.6"/>
<ellipse cx="300.1" cy="233.6" rx="3.1" ry="2.3" transform="rotate(59 300.1 233.6)" fill="#2e2e2e" opacity="0.6"/>
<ellipse cx="296.8" cy="241.5" rx="4" ry="2.8" transform="rotate(110 296.8 241.5)" fill="#3c3c3c" opacity="0.6"/>
<ellipse cx="303.6" cy="241.3" rx="3.5" ry="2.4" transform="rotate(83 303.6 241.3)" fill="#3b3b3b" opacity="0.6"/>
<ellipse cx="296.1" cy="234" rx="3.1" ry="2.1" transform="rotate(5 296.1 234)" fill="#353535" opacity="0.6"/>
<circle cx="296.3" cy="229.4" r="1.2" fill="#f6f6f6"/>
<circle cx="297.1" cy="229.4" r="1" fill="#f6f6f6"/>
<circle cx="295.2" cy="226.6" r="1.4" fill="#f6f6f6"/>
<ellipse cx="371.9" cy="168.9" rx="2.1" ry="1.4" transform="rotate(27 371.9 168.9)" fill="#848484" opacity="0.6"/>
<ellipse cx="380.5" cy="167.4" rx="3.6" ry="3.1" transform="rotate(98 380.5 167.4)" fill="#6b6b6b" opacity="0.6"/>
<ellipse cx="386.4" cy="189.8" rx="2.4" ry="1.4" transform="rotate(77 386.4 189.8)" fill="#595959" opacity="0.6"/>
<ellipse cx="372.4" cy="166.9" rx="3.3" ry="2.6" transform="rotate(50 372.4 166.9)" fill="#686868" opacity="0.6"/>
<ellipse cx="379.2" cy="170" rx="2.5" ry="2.2" transform="rotate(172 379.2 170)" fill="#797979" opacity="0.6"/>
<ellipse cx="372.8" cy="166.8" rx="2.3" ry="1.6" transform="rotate(167 372.8 166.8)" fill="#5a5a5a" opacity="0.6"/>
<ellipse cx="391.2" cy="184" rx="3" ry="2.6" transform="rotate(153 391.2 184)" fill="#757575" opacity="0.6"/>
<ellipse cx="387.3" cy="181.2" rx="2.3" ry="1.3" transform="rotate(143 387.3 181.2)" fill="#707070" opacity="0.6"/>
<ellipse cx="377.5" cy="179.9" rx="3.3" ry="2.9" transform="rotate(41 377.5 179.9)" fill="#666666" opacity="0.6"/>
<ellipse cx="378.8" cy="170.7" rx="4" ry="3.3" transform="rotate(157 378.8 170.7)" fill="#7e7e7e" opacity="0.6"/>
<ellipse cx="382.2" cy="171" rx="4" ry="2.3" transform="rotate(11 382.2 171)" fill="#5e5e5e" opacity="0.6"/>
<ellipse cx="390.3" cy="183.9" rx="4" ry="3" transform="rotate(109 390.3 183.9)" fill="#797979" opacity="0.6"/>
<circle cx="381" cy="175" r="0.7" fill="#f6f6f6"/>
<circle cx="382.7" cy="180.8" r="1.1" fill="#f6f6f6"/>
<circle cx="386.9" cy="171.1" r="1.2" fill="#f6f6f6"/>
<ellipse cx="389.5" cy="188.1" rx="2.1" ry="1.5" transform="rotate(167 389.5 188.1)" fill="#3e3e3e" opacity="0.6"/>
<ellipse cx="389.9" cy="187.1" rx="2.8" ry="2.1" transform="rotate(150 389.9 187.1)" fill="#3a3a3a" opacity="0.6"/>
<ellipse cx="386.7" cy="188.4" rx="3.3" ry="2" transform="rotate(7 386.7 188.4)" fill="#3a3a3a" opacity="0.6"/>
<ellipse cx="445.1" cy="162.1" rx="3.7" ry="3.3" transform="rotate(178 445.1 162.1)" fill="#333333" opacity="0.6"/>
<ellipse cx="449.4" cy="162" rx="3.3" ry="2.2" transform="rotate(62 449.4 162)" fill="#3b3b3b" opacity="0.6"/>
<ellipse cx="447.7" cy="162.6" rx="2.5" ry="1.4" transform="rotate(131 447.7 162.6)" fill="#363636" opacity="0.6"/>
<ellipse cx="458.2" cy="185.4" rx="2" ry="1.4" transform="rotate(150 458.2 185.4)" fill="#363636" opacity="0.6"/>
<ellipse cx="462.9" cy="179" rx="2.8" ry="1.9" transform="rotate(34 462.9 179)" fill="#323232" opacity="0.6"/>
<ellipse cx="461.8" cy="179.1" rx="2.7" ry="2.2" transform="rotate(56 461.8 179.1)" fill="#404040" opacity="0.6"/>
<ellipse cx="466.3" cy="171.6" rx="3" ry="2.6" transform="rotate(27 466.3 171.6)" fill="#3a3a3a" opacity="0.6"/>
<ellipse cx="460.7" cy="171.4" rx="2.1" ry="1.2" transform="rotate(165 460.7 171.4)" fill="#3b3b3b" opacity="0.6"/>
<ellipse cx="460.2" cy="173.6" rx="2.5" ry="1.6" transform="rotate(116 460.2 173.6)" fill="#2c2c2c" opacity="0.6"/>
<ellipse cx="458.7" cy="174.9" rx="3.5" ry="2.2" transform="rotate(102 458.7 174.9)" fill="#333333" opacity="0.6"/>
<circle cx="466.1" cy="174.4" r="0.8" fill="#f6f6f6"/>
<circle cx="463.2" cy="180.6" r="0.9" fill="#f6f6f6"/>
<ellipse cx="430.6" cy="202.8" rx="3.9" ry="3.1" transform="rotate(143 430.6 202.8)" fill="#494949" opacity="0.6"/>
<ellipse cx="436.4" cy="192.9" rx="3.1" ry="2.3" transform="rotate(86 436.4 192.9)" fill="#343434" opacity="0.6"/>
<ellipse cx="431.7" cy="202" rx="4.2" ry="3.2" transform="rotate(168 431.7 202)" fill="#3f3f3f" opacity="0.6"/>
<ellipse cx="435" cy="198.5" rx="3.5" ry="2.1" transform="rotate(136 435 198.5)" fill="#393939" opacity="0.6"/>
<ellipse cx="433.7" cy="197.4" rx="3" ry="2.4" transform="rotate(130 433.7 197.4)" fill="#404040" opacity="0.6"/>
<ellipse cx="435.9" cy="195.3" rx="3.8" ry="2.1" transform="rotate(65 435.9 195.3)" fill="#3e3e3e" opacity="0.6"/>
<circle cx="433.8" cy="196.9" r="0.9" fill="#f6f6f6"/>
<ellipse cx="408.7" cy="215.6" rx="3.6" ry="2.2" transform="rotate(59 408.7 215.6)" fill="#434343" opacity="0.6"/>
<ellipse cx="410.1" cy="215.3" rx="2.6" ry="1.7" transform="rotate(4 410.1 215.3)" fill="#323232" opacity="0.6"/>
<ellipse cx="411.8" cy="214.3" rx="4.1" ry="3.4" transform="rotate(58 411.8 214.3)" fill="#333333" opacity="0.6"/>
<ellipse cx="490.4" cy="213.9" rx="3.6" ry="2.2" transform="rotate(26 490.4 213.9)" fill="#3e3e3e" opacity="0.6"/>
<ellipse cx="488.6" cy="196" rx="2.7" ry="2.4" transform="rotate(46 488.6 196)" fill="#484848" opacity="0.6"/>
<ellipse cx="501.5" cy="185.4" rx="2.1" ry="1.3" transform="rotate(13 501.5 185.4)" fill="#404040" opacity="0.6"/>
<ellipse cx="475.2" cy="217.1" rx="2.8" ry="1.7" transform="rotate(69 475.2 217.1)" fill="#404040" opacity="0.6"/>
<ellipse cx="486.4" cy="206.4" rx="2.6" ry="1.4" transform="rotate(99 486.4 206.4)" fill="#393939" opacity="0.6"/>
<ellipse cx="503.8" cy="183.1" rx="3.3" ry="2.5" transform="rotate(59 503.8 183.1)" fill="#3c3c3c" opacity="0.6"/>
<ellipse cx="475.6" cy="222" rx="4" ry="2.5" transform="rotate(150 475.6 222)" fill="#4a4a4a" opacity="0.6"/>
<ellipse cx="512.8" cy="178" rx="3.3" ry="2.4" transform="rotate(154 512.8 178)" fill="#363636" opacity="0.6"/>
<ellipse cx="486.5" cy="209.9" rx="2.9" ry="2" transform="rotate(61 486.5 209.9)" fill="#3e3e3e" opacity="0.6"/>
<ellipse cx="508.9" cy="186.9" rx="3.7" ry="2.7" transform="rotate(3 508.9 186.9)" fill="#353535" opacity="0.6"/>
<ellipse cx="505.7" cy="197.1" rx="4.2" ry="2.4" transform="rotate(118 505.7 197.1)" fill="#4c4c4c" opacity="0.6"/>
<ellipse cx="514" cy="181.7" rx="2" ry="1.4" transform="rotate(116 514 181.7)" fill="#3c3c3c" opacity="0.6"/>
<ellipse cx="492.5" cy="200.3" rx="2.8" ry="2.4" transform="rotate(53 492.5 200.3)" fill="#3a3a3a" opacity="0.6"/>
<ellipse cx="497.5" cy="204.3" rx="2.6" ry="2.1" transform="rotate(158 497.5 204.3)" fill="#4f4f4f" opacity="0.6"/>
<ellipse cx="500.5" cy="202.6" rx="2.7" ry="1.8" transform="rotate(29 500.5 202.6)" fill="#3d3d3d" opacity="0.6"/>
<ellipse cx="500.9" cy="197.5" rx="2.9" ry="1.8" transform="rotate(180 500.9 197.5)" fill="#414141" opacity="0.6"/>
<ellipse cx="491.8" cy="199" rx="2.4" ry="1.5" transform="rotate(165 491.8 199)" fill="#393939" opacity="0.6"/>
<ellipse cx="474.8" cy="219.4" rx="3.1" ry="2.5" transform="rotate(43 474.8 219.4)" fill="#464646" opacity="0.6"/>
<ellipse cx="505.2" cy="189.9" rx="2.3" ry="1.9" transform="rotate(126 505.2 189.9)" fill="#404040" opacity="0.6"/>
<ellipse cx="504.4" cy="186.8" rx="3.9" ry="2.4" transform="rotate(133 504.4 186.8)" fill="#343434" opacity="0.6"/>
<ellipse cx="498.4" cy="184.5" rx="2.2" ry="1.8" transform="rotate(116 498.4 184.5)" fill="#434343" opacity="0.6"/>
<ellipse cx="511.7" cy="182.9" rx="4" ry="2.7" transform="rotate(6 511.7 182.9)" fill="#373737" opacity="0.6"/>
<ellipse cx="501.3" cy="188.7" rx="3.6" ry="2.1" transform="rotate(52 501.3 188.7)" fill="#505050" opacity="0.6"/>
<ellipse cx="478.2" cy="212.4" rx="2.9" ry="1.8" transform="rotate(55 478.2 212.4)" fill="#404040" opacity="0.6"/>
<ellipse cx="483.7" cy="199.8" rx="3.4" ry="2.8" transform="rotate(91 483.7 199.8)" fill="#3f3f3f" opacity="0.6"/>
<ellipse cx="473.2" cy="216.6" rx="2.9" ry="1.8" transform="rotate(129 473.2 216.6)" fill="#3a3a3a" opacity="0.6"/>
<ellipse cx="480.1" cy="206.3" rx="3.9" ry="2.5" transform="rotate(0 480.1 206.3)" fill="#4c4c4c" opacity="0.6"/>
<ellipse cx="481.2" cy="218.3" rx="2.3" ry="1.7" transform="rotate(144 481.2 218.3)" fill="#454545" opacity="0.6"/>
<ellipse cx="487.2" cy="201.3" rx="2.3" ry="1.5" transform="rotate(111 487.2 201.3)" fill="#3f3f3f" opacity="0.6"/>
<ellipse cx="490.6" cy="203" rx="3" ry="2.2" transform="rotate(25 490.6 203)" fill="#343434" opacity="0.6"/>
<circle cx="495.8" cy="203" r="0.9" fill="#f6f6f6"/>
<circle cx="507.3" cy="189.1" r="1.3" fill="#f6f6f6"/>
<circle cx="500" cy="193" r="1.1" fill="#f6f6f6"/>
<circle cx="502.4" cy="179.9" r="1.1" fill="#f6f6f6"/>
<circle cx="489.9" cy="193" r="1.3" fill="#f6f6f6"/>
<circle cx="468.7" cy="227.6" r="1.1" fill="#f6f6f6"/>
<circle cx="488.7" cy="196.9" r="1.3" fill="#f6f6f6"/>
<circle cx="500.7" cy="204.3" r="1.1" fill="#f6f6f6"/>
<circle cx="496" cy="185.4" r="1.1" fill="#f6f6f6"/>
<ellipse cx="317.5" cy="243" rx="4" ry="3.1" transform="rotate(149 317.5 243)" fill="#323232" opacity="0.6"/>
<ellipse cx="336.6" cy="260.7" rx="4" ry="2.8" transform="rotate(178 336.6 260.7)" fill="#2d2d2d" opacity="0.6"/>
<ellipse cx="351" cy="271.4" rx="3.1" ry="1.9" transform="rotate(131 351 271.4)" fill="#353535" opacity="0.6"/>
<ellipse cx="363.5" cy="272.3" rx="4" ry="2.6" transform="rotate(21 363.5 272.3)" fill="#313131" opacity="0.6"/>
<ellipse cx="334.7" cy="284.1" rx="3.3" ry="2.8" transform="rotate(130 334.7 284.1)" fill="#383838" opacity="0.6"/>
<ellipse cx="315.6" cy="273.5" rx="2.3" ry="1.3" transform="rotate(59 315.6 273.5)" fill="#333333" opacity="0.6"/>
<ellipse cx="311.6" cy="265.3" rx="2.1" ry="1.8" transform="rotate(123 311.6 265.3)" fill="#404040" opacity="0.6"/>
<ellipse cx="317.6" cy="264.5" rx="3.7" ry="2.8" transform="rotate(36 317.6 264.5)" fill="#383838" opacity="0.6"/>
<ellipse cx="314.6" cy="259.2" rx="3.8" ry="3.2" transform="rotate(30 314.6 259.2)" fill="#3d3d3d" opacity="0.6"/>
<ellipse cx="333.4" cy="240.6" rx="3.6" ry="2.4" transform="rotate(133 333.4 240.6)" fill="#3e3e3e" opacity="0.6"/>
<ellipse cx="338.6" cy="277.1" rx="4" ry="3.1" transform="rotate(167 338.6 277.1)" fill="#323232" opacity="0.6"/>
<ellipse cx="332.1" cy="235.4" rx="2.7" ry="2.1" transform="rotate(17 332.1 235.4)" fill="#363636" opacity="0.6"/>
<ellipse cx="341.7" cy="260.7" rx="2.9" ry="2" transform="rotate(95 341.7 260.7)" fill="#323232" opacity="0.6"/>
<ellipse cx="345" cy="267.1" rx="2.7" ry="1.6" transform="rotate(126 345 267.1)" fill="#363636" opacity="0.6"/>
<ellipse cx="343.8" cy="261.1" rx="2.5" ry="1.4" transform="rotate(13 343.8 261.1)" fill="#424242" opacity="0.6"/>
<ellipse cx="322.7" cy="269.1" rx="2.7" ry="1.5" transform="rotate(60 322.7 269.1)" fill="#3f3f3f" opacity="0.6"/>
<ellipse cx="319.6" cy="251.9" rx="3.5" ry="2.9" transform="rotate(120 319.6 251.9)" fill="#363636" opacity="0.6"/>
<ellipse cx="328.2" cy="259.7" rx="3.8" ry="3" transform="rotate(117 328.2 259.7)" fill="#414141" opacity="0.6"/>
<ellipse cx="317.9" cy="290.4" rx="3" ry="2.2" transform="rotate(157 317.9 290.4)" fill="#2e2e2e" opacity="0.6"/>
<ellipse cx="331.2" cy="272.3" rx="3.6" ry="3.2" transform="rotate(150 331.2 272.3)" fill="#313131" opacity="0.6"/>
<ellipse cx="326.6" cy="278" rx="2.7" ry="1.9" transform="rotate(46 326.6 278)" fill="#3d3d3d" opacity="0.6"/>
<ellipse cx="320.3" cy="307.8" rx="2.4" ry="1.7" transform="rotate(8 320.3 307.8)" fill="#363636" opacity="0.6"/>
<ellipse cx="325.2" cy="247.8" rx="3.9" ry="2.9" transform="rotate(38 325.2 247.8)" fill="#414141" opacity="0.6"/>
<ellipse cx="338.6" cy="251.9" rx="3.3" ry="2.1" transform="rotate(39 338.6 251.9)" fill="#323232" opacity="0.6"/>
<ellipse cx="351.4" cy="248.4" rx="3.3" ry="2.5" transform="rotate(113 351.4 248.4)" fill="#2e2e2e" opacity="0.6"/>
<ellipse cx="317.7" cy="258.2" rx="2.9" ry="2.3" transform="rotate(103 317.7 258.2)" fill="#404040" opacity="0.6"/>
<ellipse cx="328.2" cy="235" rx="3.8" ry="3" transform="rotate(45 328.2 235)" fill="#434343" opacity="0.6"/>
<ellipse cx="339.2" cy="286.9" rx="2.8" ry="1.8" transform="rotate(34 339.2 286.9)" fill="#2e2e2e" opacity="0.6"/>
<ellipse cx="359.5" cy="273.1" rx="3.3" ry="2" transform="rotate(164 359.5 273.1)" fill="#333333" opacity="0.6"/>
<ellipse cx="350" cy="275.6" rx="2" ry="1.6" transform="rotate(110 350 275.6)" fill="#303030" opacity="0.6"/>
<ellipse cx="310.5" cy="255.3" rx="3.1" ry="2.4" transform="rotate(74 310.5 255.3)" fill="#3f3f3f" opacity="0.6"/>
<ellipse cx="357.3" cy="286.5" rx="3.5" ry="2" transform="rotate(144 357.3 286.5)" fill="#3b3b3b" opacity="0.6"/>
<ellipse cx="314.3" cy="252.2" rx="3.2" ry="2.6" transform="rotate(149 314.3 252.2)" fill="#404040" opacity="0.6"/>
<ellipse cx="316.3" cy="271.1" rx="3.2" ry="2.7" transform="rotate(116 316.3 271.1)" fill="#2c2c2c" opacity="0.6"/>
<ellipse cx="348.1" cy="260.2" rx="4" ry="2.6" transform="rotate(25 348.1 260.2)" fill="#3d3d3d" opacity="0.6"/>
<ellipse cx="344.8" cy="289.3" rx="2.7" ry="1.8" transform="rotate(156 344.8 289.3)" fill="#2d2d2d" opacity="0.6"/>
<ellipse cx="345.3" cy="259.7" rx="2.4" ry="1.7" transform="rotate(68 345.3 259.7)" fill="#313131" opacity="0.6"/>
<ellipse cx="314.4" cy="282.6" rx="3.4" ry="2.5" transform="rotate(45 314.4 282.6)" fill="#393939" opacity="0.6"/>
<ellipse cx="364.8" cy="276.3" rx="2.1" ry="1.4" transform="rotate(131 364.8 276.3)" fill="#373737" opacity="0.6"/>
<ellipse cx="341.2" cy="290.6" rx="4" ry="2.8" transform="rotate(10 341.2 290.6)" fill="#343434" opacity="0.6"/>
<ellipse cx="324" cy="298.2" rx="3.9" ry="3.5" transform="rotate(129 324 298.2)" fill="#3c3c3c" opacity="0.6"/>
<ellipse cx="357.8" cy="264.5" rx="2.3" ry="1.8" transform="rotate(81 357.8 264.5)" fill="#2f2f2f" opacity="0.6"/>
<ellipse cx="334" cy="267.5" rx="2.4" ry="1.6" transform="rotate(34 334 267.5)" fill="#383838" opacity="0.6"/>
<ellipse cx="341.1" cy="264.1" rx="3.8" ry="2.2" transform="rotate(84 341.1 264.1)" fill="#3a3a3a" opacity="0.6"/>
<ellipse cx="334.5" cy="292.2" rx="2.2" ry="1.8" transform="rotate(141 334.5 292.2)" fill="#3e3e3e" opacity="0.6"/>
<ellipse cx="342.5" cy="240.6" rx="2.6" ry="1.5" transform="rotate(84 342.5 240.6)" fill="#333333" opacity="0.6"/>
<ellipse cx="331.1" cy="275.1" rx="2.2" ry="1.8" transform="rotate(107 331.1 275.1)" fill="#3e3e3e" opacity="0.6"/>
<ellipse cx="363.8" cy="257" rx="2.3" ry="1.9" transform="rotate(177 363.8 257)" fill="#2e2e2e" opacity="0.6"/>
<ellipse cx="327" cy="284.4" rx="4" ry="2.9" transform="rotate(167 327 284.4)" fill="#3f3f3f" opacity="0.6"/>
<ellipse cx="326.4" cy="257.3" rx="3.1" ry="2.5" transform="rotate(14 326.4 257.3)" fill="#343434" opacity="0.6"/>
<ellipse cx="350.8" cy="264.1" rx="3.9" ry="3.2" transform="rotate(142 350.8 264.1)" fill="#393939" opacity="0.6"/>
<ellipse cx="334" cy="242.3" rx="2.2" ry="1.8" transform="rotate(160 334 242.3)" fill="#2d2d2d" opacity="0.6"/>
<circle cx="339.5" cy="276.4" r="1.1" fill="#f6f6f6"/>
<circle cx="331.3" cy="276.7" r="0.8" fill="#f6f6f6"/>
<circle cx="312.6" cy="286.1" r="1.2" fill="#f6f6f6"/>
<circle cx="358.7" cy="287.8" r="1.4" fill="#f6f6f6"/>
<circle cx="319.3" cy="294.9" r="0.8" fill="#f6f6f6"/>
<circle cx="313.8" cy="274.3" r="1.4" fill="#f6f6f6"/>
<circle cx="354.6" cy="263.6" r="1.1" fill="#f6f6f6"/>
<circle cx="357" cy="286.8" r="0.9" fill="#f6f6f6"/>
<circle cx="353.5" cy="270.9" r="1.3" fill="#f6f6f6"/>
<circle cx="350.2" cy="268" r="1.2" fill="#f6f6f6"/>
<circle cx="358.5" cy="274.4" r="1.5" fill="#f6f6f6"/>
<circle cx="352.3" cy="271.1" r="1.4" fill="#f6f6f6"/>
<circle cx="313.3" cy="258.7" r="1.3" fill="#f6f6f6"/>
<circle cx="359.8" cy="261.6" r="1.5" fill="#f6f6f6"/>
<circle cx="342.3" cy="257.4" r="0.9" fill="#f6f6f6"/>
<circle cx="333.9" cy="237.4" r="1.4" fill="#f6f6f6"/>
<ellipse cx="293.1" cy="259.7" rx="3.3" ry="2.2" transform="rotate(55 293.1 259.7)" fill="#414141" opacity="0.6"/>
<ellipse cx="290.8" cy="268.8" rx="3.2" ry="2.5" transform="rotate(76 290.8 268.8)" fill="#3f3f3f" opacity="0.6"/>
<ellipse cx="295.2" cy="267.8" rx="2.4" ry="1.7" transform="rotate(73 295.2 267.8)" fill="#363636" opacity="0.6"/>
<ellipse cx="291.2" cy="267.9" rx="3.1" ry="1.7" transform="rotate(125 291.2 267.9)" fill="#424242" opacity="0.6"/>
<circle cx="289.7" cy="261.2" r="1.2" fill="#f6f6f6"/>
<ellipse cx="433.8" cy="257.1" rx="3.3" ry="2.9" transform="rotate(99 433.8 257.1)" fill="#565656" opacity="0.6"/>
<ellipse cx="426.5" cy="256.4" rx="2.4" ry="2.1" transform="rotate(150 426.5 256.4)" fill="#5f5f5f" opacity="0.6"/>
<ellipse cx="428.6" cy="254.9" rx="2.7" ry="2" transform="rotate(19 428.6 254.9)" fill="#636363" opacity="0.6"/>
<ellipse cx="427.4" cy="264.8" rx="4.1" ry="3.6" transform="rotate(147 427.4 264.8)" fill="#4a4a4a" opacity="0.6"/>
<ellipse cx="424.5" cy="258.3" rx="3.3" ry="2.1" transform="rotate(135 424.5 258.3)" fill="#585858" opacity="0.6"/>
<ellipse cx="427" cy="251.4" rx="2.2" ry="2" transform="rotate(117 427 251.4)" fill="#515151" opacity="0.6"/>
<ellipse cx="424.1" cy="252.5" rx="3.6" ry="3" transform="rotate(132 424.1 252.5)" fill="#4d4d4d" opacity="0.6"/>
<ellipse cx="434.2" cy="264.7" rx="3.8" ry="2.2" transform="rotate(6 434.2 264.7)" fill="#545454" opacity="0.6"/>
<circle cx="438.9" cy="272.5" r="1" fill="#f6f6f6"/>
<circle cx="425.6" cy="252.9" r="1.2" fill="#f6f6f6"/>
<ellipse cx="461.2" cy="265" rx="2.5" ry="1.5" transform="rotate(149 461.2 265)" fill="#393939" opacity="0.6"/>
<ellipse cx="461" cy="269.7" rx="4" ry="2.4" transform="rotate(61 461 269.7)" fill="#333333" opacity="0.6"/>
<ellipse cx="458.6" cy="270.1" rx="3.5" ry="2.7" transform="rotate(108 458.6 270.1)" fill="#2f2f2f" opacity="0.6"/>
<ellipse cx="437.3" cy="290" rx="3.8" ry="2.4" transform="rotate(114 437.3 290)" fill="#313131" opacity="0.6"/>
<ellipse cx="432.9" cy="285.1" rx="4.2" ry="2.4" transform="rotate(78 432.9 285.1)" fill="#262626" opacity="0.6"/>
<ellipse cx="432.3" cy="287.4" rx="4.1" ry="3.5" transform="rotate(119 432.3 287.4)" fill="#242424" opacity="0.6"/>
<ellipse cx="432.8" cy="295.2" rx="2.9" ry="2.6" transform="rotate(91 432.8 295.2)" fill="#303030" opacity="0.6"/>
<ellipse cx="443.9" cy="287.2" rx="3.3" ry="2" transform="rotate(172 443.9 287.2)" fill="#323232" opacity="0.6"/>
<circle cx="439.8" cy="289.6" r="1.3" fill="#f6f6f6"/>
<ellipse cx="476.2" cy="297.7" rx="2.6" ry="2.3" transform="rotate(4 476.2 297.7)" fill="#333333" opacity="0.6"/>
<ellipse cx="474.9" cy="299.3" rx="2.5" ry="2.1" transform="rotate(30 474.9 299.3)" fill="#444444" opacity="0.6"/>
<ellipse cx="467.1" cy="305.1" rx="3.1" ry="2.5" transform="rotate(145 467.1 305.1)" fill="#414141" opacity="0.6"/>
<ellipse cx="453.5" cy="292.9" rx="2.8" ry="2.5" transform="rotate(15 453.5 292.9)" fill="#3a3a3a" opacity="0.6"/>
<ellipse cx="469.1" cy="298.8" rx="3.8" ry="2.4" transform="rotate(77 469.1 298.8)" fill="#3f3f3f" opacity="0.6"/>
<ellipse cx="472.7" cy="293.3" rx="2.9" ry="2.4" transform="rotate(179 472.7 293.3)" fill="#4a4a4a" opacity="0.6"/>
<ellipse cx="457.5" cy="295" rx="2.5" ry="2.2" transform="rotate(98 457.5 295)" fill="#333333" opacity="0.6"/>
<ellipse cx="470.9" cy="306.5" rx="3.4" ry="2.1" transform="rotate(32 470.9 306.5)" fill="#474747" opacity="0.6"/>
<ellipse cx="467.5" cy="289.6" rx="3.2" ry="2.2" transform="rotate(68 467.5 289.6)" fill="#3a3a3a" opacity="0.6"/>
<ellipse cx="468.3" cy="293.4" rx="3" ry="2.7" transform="rotate(114 468.3 293.4)" fill="#383838" opacity="0.6"/>
<ellipse cx="456.2" cy="300.1" rx="3.1" ry="2.7" transform="rotate(147 456.2 300.1)" fill="#434343" opacity="0.6"/>
<circle cx="466.1" cy="308.5" r="1.1" fill="#f6f6f6"/>
<circle cx="468.6" cy="306.6" r="1.1" fill="#f6f6f6"/>
<circle cx="468.2" cy="310.3" r="0.8" fill="#f6f6f6"/>
<ellipse cx="408.1" cy="287.2" rx="3.3" ry="2.6" transform="rotate(166 408.1 287.2)" fill="#2c2c2c" opacity="0.6"/>
<ellipse cx="398.5" cy="301.8" rx="4" ry="2.3" transform="rotate(128 398.5 301.8)" fill="#313131" opacity="0.6"/>
<ellipse cx="398" cy="295.6" rx="3.8" ry="2.8" transform="rotate(168 398 295.6)" fill="#282828" opacity="0.6"/>
<ellipse cx="416.5" cy="283.2" rx="2.8" ry="1.7" transform="rotate(97 416.5 283.2)" fill="#2d2d2d" opacity="0.6"/>
<ellipse cx="405.5" cy="293.5" rx="2.4" ry="2" transform="rotate(38 405.5 293.5)" fill="#353535" opacity="0.6"/>
<ellipse cx="412.3" cy="293.4" rx="3.9" ry="3.2" transform="rotate(53 412.3 293.4)" fill="#323232" opacity="0.6"/>
<ellipse cx="402.2" cy="297.3" rx="4.2" ry="2.4" transform="rotate(135 402.2 297.3)" fill="#282828" opacity="0.6"/>
<ellipse cx="414" cy="283" rx="3.5" ry="3" transform="rotate(163 414 283)" fill="#3c3c3c" opacity="0.6"/>
<ellipse cx="405.7" cy="291.8" rx="3.6" ry="2.1" transform="rotate(109 405.7 291.8)" fill="#303030" opacity="0.6"/>
<circle cx="407.9" cy="297.1" r="0.8" fill="#f6f6f6"/>
<circle cx="418.5" cy="286.9" r="1.1" fill="#f6f6f6"/>
<ellipse cx="500.1" cy="254" rx="3" ry="2.3" transform="rotate(22 500.1 254)" fill="#4a4a4a" opacity="0.6"/>
<ellipse cx="499.6" cy="257.9" rx="3.1" ry="2.6" transform="rotate(1 499.6 257.9)" fill="#343434" opacity="0.6"/>
<ellipse cx="507.1" cy="250.9" rx="2.1" ry="1.6" transform="rotate(60 507.1 250.9)" fill="#393939" opacity="0.6"/>
<ellipse cx="505.7" cy="252.8" rx="2.1" ry="1.7" transform="rotate(95 505.7 252.8)" fill="#3b3b3b" opacity="0.6"/>
<ellipse cx="504.5" cy="246.3" rx="3.1" ry="1.9" transform="rotate(132 504.5 246.3)" fill="#484848" opacity="0.6"/>
<ellipse cx="502.3" cy="259.2" rx="3.6" ry="3" transform="rotate(30 502.3 259.2)" fill="#454545" opacity="0.6"/>
<ellipse cx="515.5" cy="246.1" rx="3.9" ry="3.4" transform="rotate(32 515.5 246.1)" fill="#323232" opacity="0.6"/>
<ellipse cx="506.9" cy="261.7" rx="2.3" ry="1.7" transform="rotate(119 506.9 261.7)" fill="#303030" opacity="0.6"/>
<ellipse cx="501.8" cy="257.3" rx="3.6" ry="2.3" transform="rotate(156 501.8 257.3)" fill="#383838" opacity="0.6"/>
<circle cx="514.8" cy="242.4" r="1.2" fill="#f6f6f6"/>
<circle cx="516.5" cy="254.8" r="1.2" fill="#f6f6f6"/>
<ellipse cx="497.3" cy="274" rx="4" ry="2.3" transform="rotate(81 497.3 274)" fill="#636363" opacity="0.6"/>
<ellipse cx="505.1" cy="277.4" rx="2.7" ry="2.3" transform="rotate(176 505.1 277.4)" fill="#434343" opacity="0.6"/>
<ellipse cx="499.2" cy="275.1" rx="2.5" ry="1.9" transform="rotate(142 499.2 275.1)" fill="#626262" opacity="0.6"/>
<ellipse cx="506" cy="280.9" rx="3.7" ry="2.7" transform="rotate(29 506 280.9)" fill="#444444" opacity="0.6"/>
<ellipse cx="501.2" cy="276" rx="3.3" ry="2.3" transform="rotate(13 501.2 276)" fill="#555555" opacity="0.6"/>
<ellipse cx="495.5" cy="273.4" rx="3.1" ry="2.3" transform="rotate(57 495.5 273.4)" fill="#4e4e4e" opacity="0.6"/>
<ellipse cx="498.2" cy="274.5" rx="3.3" ry="2.5" transform="rotate(6 498.2 274.5)" fill="#5f5f5f" opacity="0.6"/>
<circle cx="511.9" cy="282.3" r="1.2" fill="#f6f6f6"/>
<circle cx="507.1" cy="280" r="1.4" fill="#f6f6f6"/>
</g>
<rect x="284" y="158" width="48" height="27.2" fill="#fff"/>
<rect x="468.6" y="290.8" width="52" height="29" fill="#fff"/>
</g>
<path d="M285 317.5V159.3H518.3" fill="none" stroke="#aaa" stroke-width="0.8"/>
<path d="M518.3 159.3V317.5H285" fill="none" stroke="#ccc" stroke-width="0.6"/>
<text x="40.8" y="178.4" font-size="14.5" font-style="italic" fill="#000" stroke="#000" stroke-width="0.3">+/+</text>
<text x="294.8" y="177" font-size="14.4" font-style="italic" fill="#000" stroke="#000" stroke-width="0.25">rd/rd</text>
<text x="224" y="307.3" font-size="13" textLength="30.5" fill="#000" stroke="#000" stroke-width="0.3">1 µm</text>
<rect x="227" y="313.6" width="24" height="2.6" fill="#000"/>
<text x="479" y="307.4" font-size="13" textLength="30.5" fill="#000" stroke="#000" stroke-width="0.3">1 µm</text>
<rect x="481.5" y="313" width="24.3" height="3" fill="#000"/>
<text x="0.6" y="172.8" font-size="16.8" text-anchor="start" font-weight="bold" font-style="normal" fill="#000">C</text>
<rect x="58.3" y="335.3" width="197.2" height="131.1" fill="none" stroke="#444" stroke-width="1"/>
<line x1="54.6" y1="466.45" x2="58.3" y2="466.45" stroke="#444" stroke-width="1"/>
<text x="53.5" y="469.55" font-size="8.9" text-anchor="end" font-weight="normal" font-style="normal" fill="#000" stroke="#000" stroke-width="0.2">0</text>
<line x1="54.6" y1="409.2" x2="58.3" y2="409.2" stroke="#444" stroke-width="1"/>
<text x="53.5" y="412.3" font-size="8.9" text-anchor="end" font-weight="normal" font-style="normal" fill="#000" stroke="#000" stroke-width="0.2">50</text>
<line x1="54.6" y1="351.95" x2="58.3" y2="351.95" stroke="#444" stroke-width="1"/>
<text x="53.5" y="355.05" font-size="8.9" text-anchor="end" font-weight="normal" font-style="normal" fill="#000" stroke="#000" stroke-width="0.2">100</text>
<line x1="58.5" y1="466.4" x2="58.5" y2="470.1" stroke="#444" stroke-width="1"/>
<text x="58.5" y="478.8" font-size="9.3" text-anchor="middle" font-weight="normal" font-style="normal" fill="#000" stroke="#000" stroke-width="0.2">0</text>
<line x1="88.8" y1="466.4" x2="88.8" y2="470.1" stroke="#444" stroke-width="1"/>
<text x="88.8" y="478.8" font-size="9.3" text-anchor="middle" font-weight="normal" font-style="normal" fill="#000" stroke="#000" stroke-width="0.2">1</text>
<line x1="119.1" y1="466.4" x2="119.1" y2="470.1" stroke="#444" stroke-width="1"/>
<text x="119.1" y="478.8" font-size="9.3" text-anchor="middle" font-weight="normal" font-style="normal" fill="#000" stroke="#000" stroke-width="0.2">2</text>
<line x1="149.4" y1="466.4" x2="149.4" y2="470.1" stroke="#444" stroke-width="1"/>
<text x="149.4" y="478.8" font-size="9.3" text-anchor="middle" font-weight="normal" font-style="normal" fill="#000" stroke="#000" stroke-width="0.2">3</text>
<line x1="179.7" y1="466.4" x2="179.7" y2="470.1" stroke="#444" stroke-width="1"/>
<text x="179.7" y="478.8" font-size="9.3" text-anchor="middle" font-weight="normal" font-style="normal" fill="#000" stroke="#000" stroke-width="0.2">4</text>
<line x1="210" y1="466.4" x2="210" y2="470.1" stroke="#444" stroke-width="1"/>
<text x="210" y="478.8" font-size="9.3" text-anchor="middle" font-weight="normal" font-style="normal" fill="#000" stroke="#000" stroke-width="0.2">5</text>
<line x1="240.3" y1="466.4" x2="240.3" y2="470.1" stroke="#444" stroke-width="1"/>
<text x="240.3" y="478.8" font-size="9.3" text-anchor="middle" font-weight="normal" font-style="normal" fill="#000" stroke="#000" stroke-width="0.2">6</text>
<text x="29.5" y="404" font-size="11.1" text-anchor="middle" font-weight="bold" font-style="normal" fill="#000" transform="rotate(-90 29.5 404)">Labelled platelets (%)</text>
<text x="156.6" y="496.8" font-size="9.7" text-anchor="middle" font-weight="bold" font-style="normal" fill="#000">Time after labeling (d)</text>
<text x="-1.2" y="347.4" font-size="16.8" text-anchor="start" font-weight="bold" font-style="normal" fill="#000">D</text>
<path d="M58.5 351.95 L67.59 360.54 L88.8 365.69 L97.89 369.12 L119.1 390.31 L128.19 402.33 L149.4 414.93 L158.49 421.79 L179.7 440.69 L188.79 444.12 L210 452.14 L219.09 455.57 L240.3 464.16" fill="none" stroke="#111" stroke-width="1.25"/>
<line x1="67.59" y1="356.76" x2="67.59" y2="364.32" stroke="#222" stroke-width="0.9"/>
<line x1="65.19" y1="356.76" x2="69.99" y2="356.76" stroke="#222" stroke-width="0.9"/>
<line x1="65.19" y1="364.32" x2="69.99" y2="364.32" stroke="#222" stroke-width="0.9"/>
<line x1="88.8" y1="362.83" x2="88.8" y2="368.55" stroke="#222" stroke-width="0.9"/>
<line x1="86.4" y1="362.83" x2="91.2" y2="362.83" stroke="#222" stroke-width="0.9"/>
<line x1="86.4" y1="368.55" x2="91.2" y2="368.55" stroke="#222" stroke-width="0.9"/>
<line x1="97.89" y1="366.26" x2="97.89" y2="371.99" stroke="#222" stroke-width="0.9"/>
<line x1="95.49" y1="366.26" x2="100.29" y2="366.26" stroke="#222" stroke-width="0.9"/>
<line x1="95.49" y1="371.99" x2="100.29" y2="371.99" stroke="#222" stroke-width="0.9"/>
<line x1="119.1" y1="387.44" x2="119.1" y2="393.17" stroke="#222" stroke-width="0.9"/>
<line x1="116.7" y1="387.44" x2="121.5" y2="387.44" stroke="#222" stroke-width="0.9"/>
<line x1="116.7" y1="393.17" x2="121.5" y2="393.17" stroke="#222" stroke-width="0.9"/>
<line x1="128.19" y1="399.47" x2="128.19" y2="405.19" stroke="#222" stroke-width="0.9"/>
<line x1="125.79" y1="399.47" x2="130.59" y2="399.47" stroke="#222" stroke-width="0.9"/>
<line x1="125.79" y1="405.19" x2="130.59" y2="405.19" stroke="#222" stroke-width="0.9"/>
<line x1="149.4" y1="410.92" x2="149.4" y2="418.93" stroke="#222" stroke-width="0.9"/>
<line x1="147" y1="410.92" x2="151.8" y2="410.92" stroke="#222" stroke-width="0.9"/>
<line x1="147" y1="418.93" x2="151.8" y2="418.93" stroke="#222" stroke-width="0.9"/>
<line x1="158.49" y1="418.02" x2="158.49" y2="425.57" stroke="#222" stroke-width="0.9"/>
<line x1="156.09" y1="418.02" x2="160.89" y2="418.02" stroke="#222" stroke-width="0.9"/>
<line x1="156.09" y1="425.57" x2="160.89" y2="425.57" stroke="#222" stroke-width="0.9"/>
<line x1="179.7" y1="437.25" x2="179.7" y2="444.12" stroke="#222" stroke-width="0.9"/>
<line x1="177.3" y1="437.25" x2="182.1" y2="437.25" stroke="#222" stroke-width="0.9"/>
<line x1="177.3" y1="444.12" x2="182.1" y2="444.12" stroke="#222" stroke-width="0.9"/>
<line x1="188.79" y1="441.83" x2="188.79" y2="446.41" stroke="#222" stroke-width="0.9"/>
<line x1="186.39" y1="441.83" x2="191.19" y2="441.83" stroke="#222" stroke-width="0.9"/>
<line x1="186.39" y1="446.41" x2="191.19" y2="446.41" stroke="#222" stroke-width="0.9"/>
<line x1="210" y1="450.42" x2="210" y2="453.85" stroke="#222" stroke-width="0.9"/>
<line x1="207.6" y1="450.42" x2="212.4" y2="450.42" stroke="#222" stroke-width="0.9"/>
<line x1="207.6" y1="453.85" x2="212.4" y2="453.85" stroke="#222" stroke-width="0.9"/>
<line x1="219.09" y1="454.43" x2="219.09" y2="456.72" stroke="#222" stroke-width="0.9"/>
<line x1="216.69" y1="454.43" x2="221.49" y2="454.43" stroke="#222" stroke-width="0.9"/>
<line x1="216.69" y1="456.72" x2="221.49" y2="456.72" stroke="#222" stroke-width="0.9"/>
<line x1="240.3" y1="463.59" x2="240.3" y2="464.73" stroke="#222" stroke-width="0.9"/>
<line x1="237.9" y1="463.59" x2="242.7" y2="463.59" stroke="#222" stroke-width="0.9"/>
<line x1="237.9" y1="464.73" x2="242.7" y2="464.73" stroke="#222" stroke-width="0.9"/>
<circle cx="58.5" cy="351.95" r="1.65" fill="#fff" stroke="#111" stroke-width="1"/>
<circle cx="67.59" cy="360.54" r="1.65" fill="#fff" stroke="#111" stroke-width="1"/>
<circle cx="88.8" cy="365.69" r="1.65" fill="#fff" stroke="#111" stroke-width="1"/>
<circle cx="97.89" cy="369.12" r="1.65" fill="#fff" stroke="#111" stroke-width="1"/>
<circle cx="119.1" cy="390.31" r="1.65" fill="#fff" stroke="#111" stroke-width="1"/>
<circle cx="128.19" cy="402.33" r="1.65" fill="#fff" stroke="#111" stroke-width="1"/>
<circle cx="149.4" cy="414.93" r="1.65" fill="#fff" stroke="#111" stroke-width="1"/>
<circle cx="158.49" cy="421.79" r="1.65" fill="#fff" stroke="#111" stroke-width="1"/>
<circle cx="179.7" cy="440.69" r="1.65" fill="#fff" stroke="#111" stroke-width="1"/>
<circle cx="188.79" cy="444.12" r="1.65" fill="#fff" stroke="#111" stroke-width="1"/>
<circle cx="210" cy="452.14" r="1.65" fill="#fff" stroke="#111" stroke-width="1"/>
<circle cx="219.09" cy="455.57" r="1.65" fill="#fff" stroke="#111" stroke-width="1"/>
<circle cx="240.3" cy="464.16" r="1.65" fill="#fff" stroke="#111" stroke-width="1"/>
<path d="M58.5 351.95 L67.59 350.81 L88.8 359.39 L97.89 367.98 L119.1 394.31 L128.19 397.75 L149.4 411.49 L158.49 418.36 L179.7 435.53 L188.79 444.35 L210 452.14 L219.09 457.29 L240.3 464.16" fill="none" stroke="#111" stroke-width="1.25"/>
<line x1="67.59" y1="346.22" x2="67.59" y2="355.38" stroke="#222" stroke-width="0.9"/>
<line x1="65.19" y1="346.22" x2="69.99" y2="346.22" stroke="#222" stroke-width="0.9"/>
<line x1="65.19" y1="355.38" x2="69.99" y2="355.38" stroke="#222" stroke-width="0.9"/>
<line x1="88.8" y1="358.25" x2="88.8" y2="360.54" stroke="#222" stroke-width="0.9"/>
<line x1="86.4" y1="358.25" x2="91.2" y2="358.25" stroke="#222" stroke-width="0.9"/>
<line x1="86.4" y1="360.54" x2="91.2" y2="360.54" stroke="#222" stroke-width="0.9"/>
<line x1="97.89" y1="364.54" x2="97.89" y2="371.41" stroke="#222" stroke-width="0.9"/>
<line x1="95.49" y1="364.54" x2="100.29" y2="364.54" stroke="#222" stroke-width="0.9"/>
<line x1="95.49" y1="371.41" x2="100.29" y2="371.41" stroke="#222" stroke-width="0.9"/>
<line x1="119.1" y1="389.74" x2="119.1" y2="398.89" stroke="#222" stroke-width="0.9"/>
<line x1="116.7" y1="389.74" x2="121.5" y2="389.74" stroke="#222" stroke-width="0.9"/>
<line x1="116.7" y1="398.89" x2="121.5" y2="398.89" stroke="#222" stroke-width="0.9"/>
<line x1="128.19" y1="393.17" x2="128.19" y2="402.33" stroke="#222" stroke-width="0.9"/>
<line x1="125.79" y1="393.17" x2="130.59" y2="393.17" stroke="#222" stroke-width="0.9"/>
<line x1="125.79" y1="402.33" x2="130.59" y2="402.33" stroke="#222" stroke-width="0.9"/>
<line x1="149.4" y1="406.34" x2="149.4" y2="416.64" stroke="#222" stroke-width="0.9"/>
<line x1="147" y1="406.34" x2="151.8" y2="406.34" stroke="#222" stroke-width="0.9"/>
<line x1="147" y1="416.64" x2="151.8" y2="416.64" stroke="#222" stroke-width="0.9"/>
<line x1="158.49" y1="415.5" x2="158.49" y2="421.22" stroke="#222" stroke-width="0.9"/>
<line x1="156.09" y1="415.5" x2="160.89" y2="415.5" stroke="#222" stroke-width="0.9"/>
<line x1="156.09" y1="421.22" x2="160.89" y2="421.22" stroke="#222" stroke-width="0.9"/>
<line x1="179.7" y1="433.25" x2="179.7" y2="437.82" stroke="#222" stroke-width="0.9"/>
<line x1="177.3" y1="433.25" x2="182.1" y2="433.25" stroke="#222" stroke-width="0.9"/>
<line x1="177.3" y1="437.82" x2="182.1" y2="437.82" stroke="#222" stroke-width="0.9"/>
<line x1="188.79" y1="440.34" x2="188.79" y2="448.36" stroke="#222" stroke-width="0.9"/>
<line x1="186.39" y1="440.34" x2="191.19" y2="440.34" stroke="#222" stroke-width="0.9"/>
<line x1="186.39" y1="448.36" x2="191.19" y2="448.36" stroke="#222" stroke-width="0.9"/>
<line x1="210" y1="450.42" x2="210" y2="453.85" stroke="#222" stroke-width="0.9"/>
<line x1="207.6" y1="450.42" x2="212.4" y2="450.42" stroke="#222" stroke-width="0.9"/>
<line x1="207.6" y1="453.85" x2="212.4" y2="453.85" stroke="#222" stroke-width="0.9"/>
<line x1="219.09" y1="456.14" x2="219.09" y2="458.44" stroke="#222" stroke-width="0.9"/>
<line x1="216.69" y1="456.14" x2="221.49" y2="456.14" stroke="#222" stroke-width="0.9"/>
<line x1="216.69" y1="458.44" x2="221.49" y2="458.44" stroke="#222" stroke-width="0.9"/>
<line x1="240.3" y1="463.59" x2="240.3" y2="464.73" stroke="#222" stroke-width="0.9"/>
<line x1="237.9" y1="463.59" x2="242.7" y2="463.59" stroke="#222" stroke-width="0.9"/>
<line x1="237.9" y1="464.73" x2="242.7" y2="464.73" stroke="#222" stroke-width="0.9"/>
<circle cx="58.5" cy="351.95" r="2.3" fill="#000"/>
<circle cx="67.59" cy="350.81" r="2.3" fill="#000"/>
<circle cx="88.8" cy="359.39" r="2.3" fill="#000"/>
<circle cx="97.89" cy="367.98" r="2.3" fill="#000"/>
<circle cx="119.1" cy="394.31" r="2.3" fill="#000"/>
<circle cx="128.19" cy="397.75" r="2.3" fill="#000"/>
<circle cx="149.4" cy="411.49" r="2.3" fill="#000"/>
<circle cx="158.49" cy="418.36" r="2.3" fill="#000"/>
<circle cx="179.7" cy="435.53" r="2.3" fill="#000"/>
<circle cx="188.79" cy="444.35" r="2.3" fill="#000"/>
<circle cx="210" cy="452.14" r="2.3" fill="#000"/>
<circle cx="219.09" cy="457.29" r="2.3" fill="#000"/>
<circle cx="240.3" cy="464.16" r="2.3" fill="#000"/>
<rect x="320.75" y="335" width="197.55" height="131.25" fill="none" stroke="#444" stroke-width="1"/>
<line x1="317.05" y1="466.25" x2="320.75" y2="466.25" stroke="#444" stroke-width="1"/>
<text x="315.95" y="469.35" font-size="8.9" text-anchor="end" font-weight="normal" font-style="normal" fill="#000" stroke="#000" stroke-width="0.2">0</text>
<line x1="317.05" y1="429.57" x2="320.75" y2="429.57" stroke="#444" stroke-width="1"/>
<text x="315.95" y="432.68" font-size="8.9" text-anchor="end" font-weight="normal" font-style="normal" fill="#000" stroke="#000" stroke-width="0.2">250</text>
<line x1="317.05" y1="392.9" x2="320.75" y2="392.9" stroke="#444" stroke-width="1"/>
<text x="315.95" y="396" font-size="8.9" text-anchor="end" font-weight="normal" font-style="normal" fill="#000" stroke="#000" stroke-width="0.2">500</text>
<line x1="317.05" y1="356.23" x2="320.75" y2="356.23" stroke="#444" stroke-width="1"/>
<text x="315.95" y="359.33" font-size="8.9" text-anchor="end" font-weight="normal" font-style="normal" fill="#000" stroke="#000" stroke-width="0.2">750</text>
<line x1="320.75" y1="466.25" x2="320.75" y2="469.95" stroke="#444" stroke-width="1"/>
<text x="320.75" y="478.8" font-size="9.3" text-anchor="middle" font-weight="normal" font-style="normal" fill="#000" stroke="#000" stroke-width="0.2">0</text>
<line x1="351.05" y1="466.25" x2="351.05" y2="469.95" stroke="#444" stroke-width="1"/>
<text x="351.05" y="478.8" font-size="9.3" text-anchor="middle" font-weight="normal" font-style="normal" fill="#000" stroke="#000" stroke-width="0.2">1</text>
<line x1="381.35" y1="466.25" x2="381.35" y2="469.95" stroke="#444" stroke-width="1"/>
<text x="381.35" y="478.8" font-size="9.3" text-anchor="middle" font-weight="normal" font-style="normal" fill="#000" stroke="#000" stroke-width="0.2">2</text>
<line x1="411.65" y1="466.25" x2="411.65" y2="469.95" stroke="#444" stroke-width="1"/>
<text x="411.65" y="478.8" font-size="9.3" text-anchor="middle" font-weight="normal" font-style="normal" fill="#000" stroke="#000" stroke-width="0.2">3</text>
<line x1="441.95" y1="466.25" x2="441.95" y2="469.95" stroke="#444" stroke-width="1"/>
<text x="441.95" y="478.8" font-size="9.3" text-anchor="middle" font-weight="normal" font-style="normal" fill="#000" stroke="#000" stroke-width="0.2">4</text>
<line x1="472.25" y1="466.25" x2="472.25" y2="469.95" stroke="#444" stroke-width="1"/>
<text x="472.25" y="478.8" font-size="9.3" text-anchor="middle" font-weight="normal" font-style="normal" fill="#000" stroke="#000" stroke-width="0.2">5</text>
<line x1="502.55" y1="466.25" x2="502.55" y2="469.95" stroke="#444" stroke-width="1"/>
<text x="502.55" y="478.8" font-size="9.3" text-anchor="middle" font-weight="normal" font-style="normal" fill="#000" stroke="#000" stroke-width="0.2">6</text>
<text x="293.7" y="401.2" font-size="10.9" text-anchor="middle" font-weight="bold" font-style="normal" fill="#000" transform="rotate(-90 293.7 401.2)">Platelets (x10<tspan font-size="6.5" dy="-3.5">9</tspan><tspan dy="3.5">/L)</tspan></text>
<text x="422.2" y="496.8" font-size="9.7" text-anchor="middle" font-weight="bold" font-style="normal" fill="#000">Time after labeling (d)</text>
<text x="270.8" y="347.5" font-size="16.8" text-anchor="start" font-weight="bold" font-style="normal" fill="#000">E</text>
<path d="M320.75 466.25 L329.84 463.76 L351.05 462.58 L360.14 461.26 L381.35 454.37 L390.44 451.87 L411.65 446.74 L420.74 445.57 L441.95 438.96 L451.04 438.08 L472.25 436.03 L481.34 434.56 L502.55 431.78" fill="none" stroke="#111" stroke-width="1.25"/>
<line x1="329.84" y1="463.02" x2="329.84" y2="464.49" stroke="#222" stroke-width="0.9"/>
<line x1="327.44" y1="463.02" x2="332.24" y2="463.02" stroke="#222" stroke-width="0.9"/>
<line x1="327.44" y1="464.49" x2="332.24" y2="464.49" stroke="#222" stroke-width="0.9"/>
<line x1="351.05" y1="462" x2="351.05" y2="463.17" stroke="#222" stroke-width="0.9"/>
<line x1="348.65" y1="462" x2="353.45" y2="462" stroke="#222" stroke-width="0.9"/>
<line x1="348.65" y1="463.17" x2="353.45" y2="463.17" stroke="#222" stroke-width="0.9"/>
<line x1="360.14" y1="460.53" x2="360.14" y2="462" stroke="#222" stroke-width="0.9"/>
<line x1="357.74" y1="460.53" x2="362.54" y2="460.53" stroke="#222" stroke-width="0.9"/>
<line x1="357.74" y1="462" x2="362.54" y2="462" stroke="#222" stroke-width="0.9"/>
<line x1="381.35" y1="453.49" x2="381.35" y2="455.25" stroke="#222" stroke-width="0.9"/>
<line x1="378.95" y1="453.49" x2="383.75" y2="453.49" stroke="#222" stroke-width="0.9"/>
<line x1="378.95" y1="455.25" x2="383.75" y2="455.25" stroke="#222" stroke-width="0.9"/>
<line x1="390.44" y1="450.99" x2="390.44" y2="452.75" stroke="#222" stroke-width="0.9"/>
<line x1="388.04" y1="450.99" x2="392.84" y2="450.99" stroke="#222" stroke-width="0.9"/>
<line x1="388.04" y1="452.75" x2="392.84" y2="452.75" stroke="#222" stroke-width="0.9"/>
<line x1="411.65" y1="443.95" x2="411.65" y2="449.53" stroke="#222" stroke-width="0.9"/>
<line x1="409.25" y1="443.95" x2="414.05" y2="443.95" stroke="#222" stroke-width="0.9"/>
<line x1="409.25" y1="449.53" x2="414.05" y2="449.53" stroke="#222" stroke-width="0.9"/>
<line x1="420.74" y1="442.92" x2="420.74" y2="448.21" stroke="#222" stroke-width="0.9"/>
<line x1="418.34" y1="442.92" x2="423.14" y2="442.92" stroke="#222" stroke-width="0.9"/>
<line x1="418.34" y1="448.21" x2="423.14" y2="448.21" stroke="#222" stroke-width="0.9"/>
<line x1="441.95" y1="435.3" x2="441.95" y2="442.63" stroke="#222" stroke-width="0.9"/>
<line x1="439.55" y1="435.3" x2="444.35" y2="435.3" stroke="#222" stroke-width="0.9"/>
<line x1="439.55" y1="442.63" x2="444.35" y2="442.63" stroke="#222" stroke-width="0.9"/>
<line x1="451.04" y1="433.98" x2="451.04" y2="442.19" stroke="#222" stroke-width="0.9"/>
<line x1="448.64" y1="433.98" x2="453.44" y2="433.98" stroke="#222" stroke-width="0.9"/>
<line x1="448.64" y1="442.19" x2="453.44" y2="442.19" stroke="#222" stroke-width="0.9"/>
<line x1="472.25" y1="431.63" x2="472.25" y2="440.43" stroke="#222" stroke-width="0.9"/>
<line x1="469.85" y1="431.63" x2="474.65" y2="431.63" stroke="#222" stroke-width="0.9"/>
<line x1="469.85" y1="440.43" x2="474.65" y2="440.43" stroke="#222" stroke-width="0.9"/>
<line x1="481.34" y1="430.16" x2="481.34" y2="438.96" stroke="#222" stroke-width="0.9"/>
<line x1="478.94" y1="430.16" x2="483.74" y2="430.16" stroke="#222" stroke-width="0.9"/>
<line x1="478.94" y1="438.96" x2="483.74" y2="438.96" stroke="#222" stroke-width="0.9"/>
<line x1="502.55" y1="426.79" x2="502.55" y2="436.76" stroke="#222" stroke-width="0.9"/>
<line x1="500.15" y1="426.79" x2="504.95" y2="426.79" stroke="#222" stroke-width="0.9"/>
<line x1="500.15" y1="436.76" x2="504.95" y2="436.76" stroke="#222" stroke-width="0.9"/>
<circle cx="320.75" cy="466.25" r="1.65" fill="#fff" stroke="#111" stroke-width="1"/>
<circle cx="329.84" cy="463.76" r="1.65" fill="#fff" stroke="#111" stroke-width="1"/>
<circle cx="351.05" cy="462.58" r="1.65" fill="#fff" stroke="#111" stroke-width="1"/>
<circle cx="360.14" cy="461.26" r="1.65" fill="#fff" stroke="#111" stroke-width="1"/>
<circle cx="381.35" cy="454.37" r="1.65" fill="#fff" stroke="#111" stroke-width="1"/>
<circle cx="390.44" cy="451.87" r="1.65" fill="#fff" stroke="#111" stroke-width="1"/>
<circle cx="411.65" cy="446.74" r="1.65" fill="#fff" stroke="#111" stroke-width="1"/>
<circle cx="420.74" cy="445.57" r="1.65" fill="#fff" stroke="#111" stroke-width="1"/>
<circle cx="441.95" cy="438.96" r="1.65" fill="#fff" stroke="#111" stroke-width="1"/>
<circle cx="451.04" cy="438.08" r="1.65" fill="#fff" stroke="#111" stroke-width="1"/>
<circle cx="472.25" cy="436.03" r="1.65" fill="#fff" stroke="#111" stroke-width="1"/>
<circle cx="481.34" cy="434.56" r="1.65" fill="#fff" stroke="#111" stroke-width="1"/>
<circle cx="502.55" cy="431.78" r="1.65" fill="#fff" stroke="#111" stroke-width="1"/>
<path d="M320.75 466.25 L329.84 460.82 L351.05 458.77 L360.14 450.85 L381.35 425.03 L390.44 421.8 L411.65 409.04 L420.74 402.73 L441.95 385.42 L451.04 376.76 L472.25 369.87 L481.34 364 L502.55 355.93" fill="none" stroke="#111" stroke-width="1.25"/>
<line x1="329.84" y1="457.01" x2="329.84" y2="464.64" stroke="#222" stroke-width="0.9"/>
<line x1="327.44" y1="457.01" x2="332.24" y2="457.01" stroke="#222" stroke-width="0.9"/>
<line x1="327.44" y1="464.64" x2="332.24" y2="464.64" stroke="#222" stroke-width="0.9"/>
<line x1="351.05" y1="457.3" x2="351.05" y2="460.24" stroke="#222" stroke-width="0.9"/>
<line x1="348.65" y1="457.3" x2="353.45" y2="457.3" stroke="#222" stroke-width="0.9"/>
<line x1="348.65" y1="460.24" x2="353.45" y2="460.24" stroke="#222" stroke-width="0.9"/>
<line x1="360.14" y1="447.33" x2="360.14" y2="454.37" stroke="#222" stroke-width="0.9"/>
<line x1="357.74" y1="447.33" x2="362.54" y2="447.33" stroke="#222" stroke-width="0.9"/>
<line x1="357.74" y1="454.37" x2="362.54" y2="454.37" stroke="#222" stroke-width="0.9"/>
<line x1="381.35" y1="418.28" x2="381.35" y2="431.78" stroke="#222" stroke-width="0.9"/>
<line x1="378.95" y1="418.28" x2="383.75" y2="418.28" stroke="#222" stroke-width="0.9"/>
<line x1="378.95" y1="431.78" x2="383.75" y2="431.78" stroke="#222" stroke-width="0.9"/>
<line x1="390.44" y1="416.08" x2="390.44" y2="427.52" stroke="#222" stroke-width="0.9"/>
<line x1="388.04" y1="416.08" x2="392.84" y2="416.08" stroke="#222" stroke-width="0.9"/>
<line x1="388.04" y1="427.52" x2="392.84" y2="427.52" stroke="#222" stroke-width="0.9"/>
<line x1="411.65" y1="402.88" x2="411.65" y2="415.2" stroke="#222" stroke-width="0.9"/>
<line x1="409.25" y1="402.88" x2="414.05" y2="402.88" stroke="#222" stroke-width="0.9"/>
<line x1="409.25" y1="415.2" x2="414.05" y2="415.2" stroke="#222" stroke-width="0.9"/>
<line x1="420.74" y1="397.45" x2="420.74" y2="408.01" stroke="#222" stroke-width="0.9"/>
<line x1="418.34" y1="397.45" x2="423.14" y2="397.45" stroke="#222" stroke-width="0.9"/>
<line x1="418.34" y1="408.01" x2="423.14" y2="408.01" stroke="#222" stroke-width="0.9"/>
<line x1="441.95" y1="380.43" x2="441.95" y2="390.41" stroke="#222" stroke-width="0.9"/>
<line x1="439.55" y1="380.43" x2="444.35" y2="380.43" stroke="#222" stroke-width="0.9"/>
<line x1="439.55" y1="390.41" x2="444.35" y2="390.41" stroke="#222" stroke-width="0.9"/>
<line x1="451.04" y1="372.51" x2="451.04" y2="381.02" stroke="#222" stroke-width="0.9"/>
<line x1="448.64" y1="372.51" x2="453.44" y2="372.51" stroke="#222" stroke-width="0.9"/>
<line x1="448.64" y1="381.02" x2="453.44" y2="381.02" stroke="#222" stroke-width="0.9"/>
<line x1="472.25" y1="364.88" x2="472.25" y2="374.86" stroke="#222" stroke-width="0.9"/>
<line x1="469.85" y1="364.88" x2="474.65" y2="364.88" stroke="#222" stroke-width="0.9"/>
<line x1="469.85" y1="374.86" x2="474.65" y2="374.86" stroke="#222" stroke-width="0.9"/>
<line x1="481.34" y1="359.31" x2="481.34" y2="368.69" stroke="#222" stroke-width="0.9"/>
<line x1="478.94" y1="359.31" x2="483.74" y2="359.31" stroke="#222" stroke-width="0.9"/>
<line x1="478.94" y1="368.69" x2="483.74" y2="368.69" stroke="#222" stroke-width="0.9"/>
<line x1="502.55" y1="350.8" x2="502.55" y2="361.07" stroke="#222" stroke-width="0.9"/>
<line x1="500.15" y1="350.8" x2="504.95" y2="350.8" stroke="#222" stroke-width="0.9"/>
<line x1="500.15" y1="361.07" x2="504.95" y2="361.07" stroke="#222" stroke-width="0.9"/>
<circle cx="320.75" cy="466.25" r="2.3" fill="#000"/>
<circle cx="329.84" cy="460.82" r="2.3" fill="#000"/>
<circle cx="351.05" cy="458.77" r="2.3" fill="#000"/>
<circle cx="360.14" cy="450.85" r="2.3" fill="#000"/>
<circle cx="381.35" cy="425.03" r="2.3" fill="#000"/>
<circle cx="390.44" cy="421.8" r="2.3" fill="#000"/>
<circle cx="411.65" cy="409.04" r="2.3" fill="#000"/>
<circle cx="420.74" cy="402.73" r="2.3" fill="#000"/>
<circle cx="441.95" cy="385.42" r="2.3" fill="#000"/>
<circle cx="451.04" cy="376.76" r="2.3" fill="#000"/>
<circle cx="472.25" cy="369.87" r="2.3" fill="#000"/>
<circle cx="481.34" cy="364" r="2.3" fill="#000"/>
<circle cx="502.55" cy="355.93" r="2.3" fill="#000"/>
</svg>
</body>
</html>
